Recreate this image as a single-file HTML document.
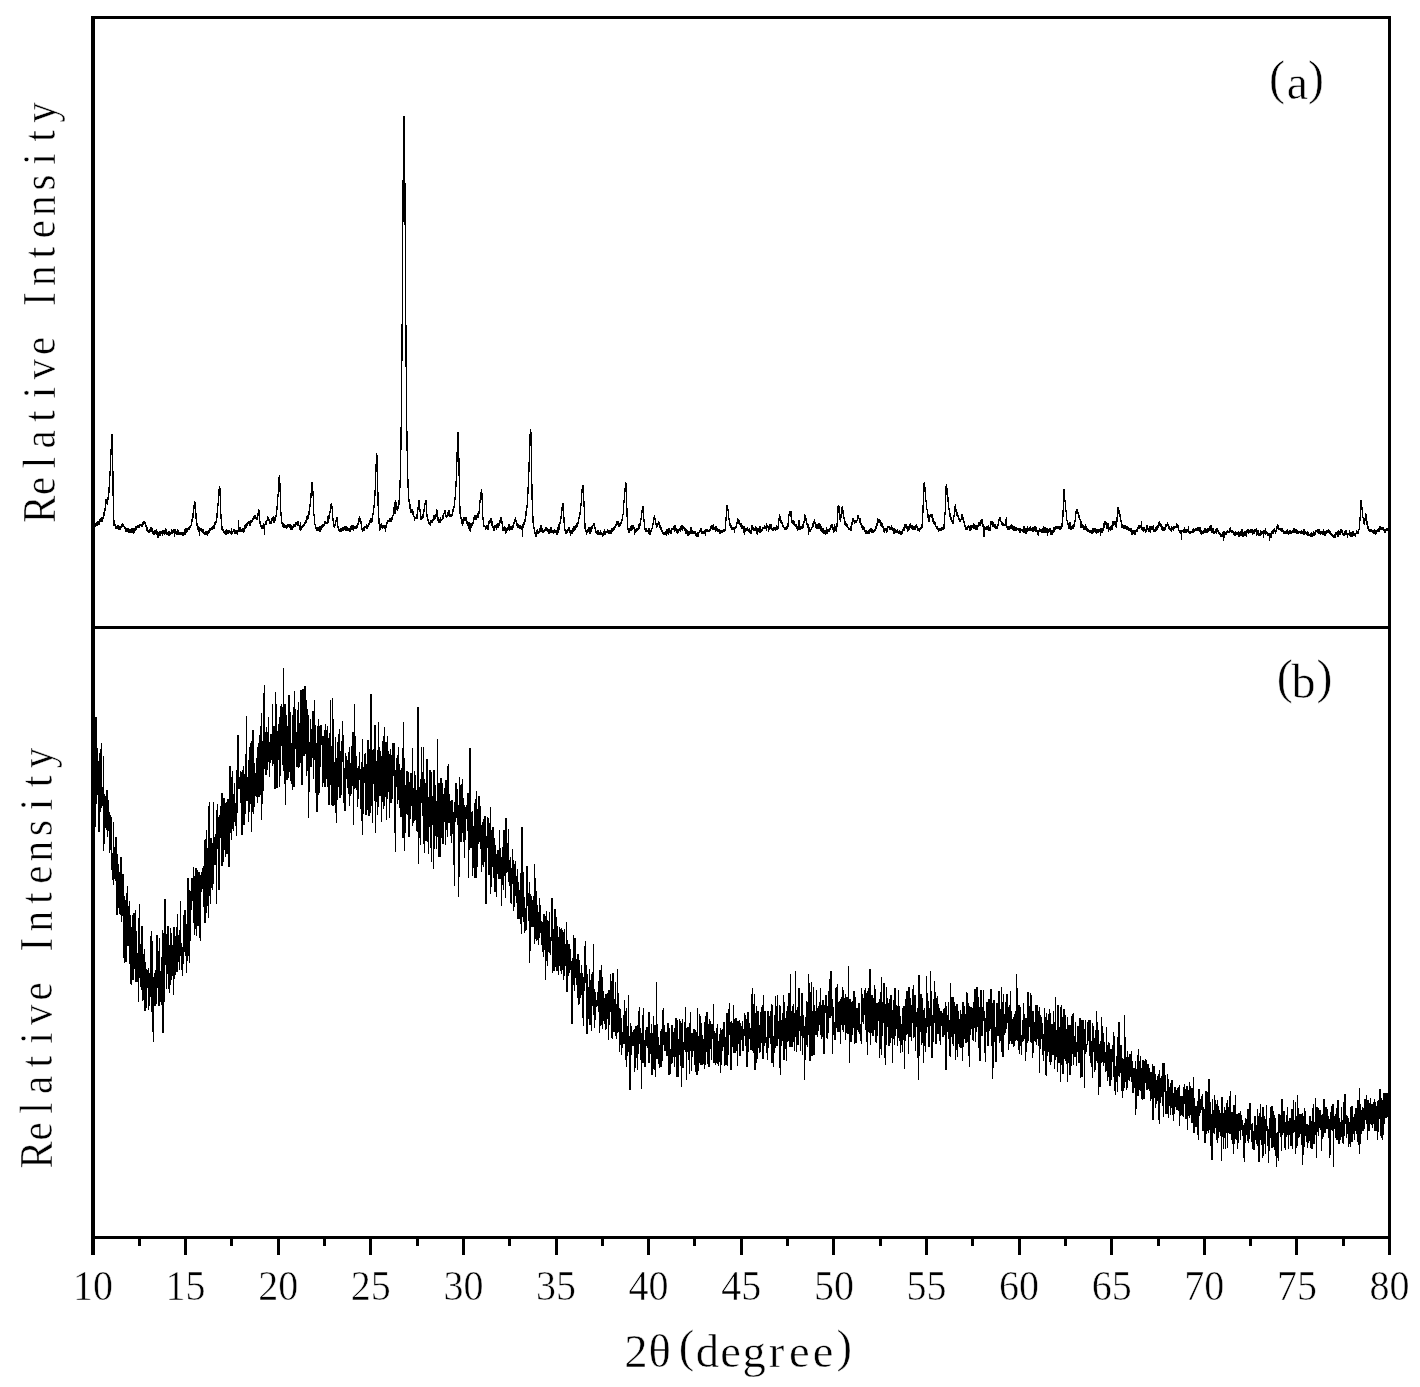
<!DOCTYPE html>
<html><head><meta charset="utf-8"><title>XRD</title>
<style>
html,body{margin:0;padding:0;background:#fff;}
body{width:1420px;height:1387px;overflow:hidden;}
svg{display:block}
text{font-family:"Liberation Serif",serif;fill:#000;stroke:#fff;stroke-width:0.5px;}
.tk{font-size:40px;}
</style></head><body>
<svg width="1420" height="1387" viewBox="0 0 1420 1387">
<rect x="0" y="0" width="1420" height="1387" fill="#fff"/>
<g fill="none" stroke="#000" stroke-width="1.3" stroke-linejoin="miter" shape-rendering="crispEdges">
<polyline points="95.0,527 95.2,524 95.4,524 95.6,525 95.8,523 96.0,524 96.2,524 96.4,522 96.6,526 96.8,525 97.0,525 97.2,524 97.4,525 97.6,523 97.8,523 98.0,521 98.2,524 98.4,523 98.6,523 98.8,521 99.0,525 99.2,522 99.4,521 99.6,524 99.8,521 100.0,519 100.2,520 100.4,518 100.6,522 100.8,520 101.0,519 101.2,522 101.4,518 101.6,521 101.8,517 102.0,519 102.2,518 102.4,521 102.6,521 102.8,518 103.0,519 103.2,517 103.4,518 103.6,515 103.8,513 104.0,512 104.2,514 104.4,516 104.6,512 104.8,509 105.0,511 105.2,507 105.3,505 105.5,504 105.7,502 105.9,501 106.1,499 106.3,501 106.5,501 106.7,504 106.9,503 107.1,501 107.3,503 107.5,505 107.7,502 107.9,499 108.1,497 108.3,496 108.5,495 108.7,491 108.9,493 109.1,488 109.3,485 109.5,484 109.7,481 109.9,475 110.1,472 110.3,468 110.5,463 110.7,456 110.9,455 111.1,451 111.3,446 111.5,440 111.7,438 111.9,435 112.1,434 112.3,436 112.5,443 112.7,457 112.9,475 113.1,492 113.3,504 113.5,512 113.7,517 113.9,521 114.1,526 114.3,525 114.5,524 114.7,524 114.9,524 115.1,526 115.3,527 115.5,524 115.7,527 115.9,526 116.1,529 116.3,527 116.5,529 116.7,526 116.9,527 117.1,527 117.3,528 117.5,528 117.7,525 117.9,527 118.1,527 118.3,526 118.5,526 118.7,530 118.9,527 119.1,526 119.3,528 119.5,528 119.7,528 119.9,529 120.1,529 120.3,528 120.5,529 120.7,528 120.9,527 121.1,527 121.3,526 121.5,527 121.7,525 121.9,524 122.1,526 122.3,524 122.5,523 122.7,527 122.9,525 123.1,527 123.3,526 123.5,525 123.7,525 123.9,526 124.1,527 124.3,527 124.5,528 124.7,526 124.9,529 125.1,527 125.3,530 125.5,531 125.7,531 125.8,532 126.0,528 126.2,531 126.4,532 126.6,531 126.8,529 127.0,531 127.2,532 127.4,528 127.6,530 127.8,531 128.0,529 128.2,533 128.4,528 128.6,529 128.8,529 129.0,530 129.2,530 129.4,532 129.6,529 129.8,530 130.0,532 130.2,532 130.4,529 130.6,532 130.8,530 131.0,532 131.2,532 131.4,533 131.6,531 131.8,529 132.0,529 132.2,532 132.4,531 132.6,533 132.8,532 133.0,530 133.2,533 133.4,530 133.6,528 133.8,534 134.0,528 134.2,532 134.4,532 134.6,530 134.8,528 135.0,531 135.2,527 135.4,527 135.6,528 135.8,530 136.0,529 136.2,530 136.4,528 136.6,528 136.8,526 137.0,527 137.2,528 137.4,527 137.6,528 137.8,526 138.0,526 138.2,527 138.4,526 138.6,527 138.8,526 139.0,528 139.2,525 139.4,525 139.6,524 139.8,525 140.0,526 140.2,524 140.4,525 140.6,526 140.8,525 141.0,524 141.2,526 141.4,525 141.6,525 141.8,526 142.0,526 142.2,524 142.4,523 142.6,524 142.8,523 143.0,522 143.2,525 143.4,523 143.6,523 143.8,521 144.0,524 144.2,521 144.4,522 144.6,521 144.8,523 145.0,523 145.2,524 145.4,525 145.6,525 145.8,527 146.0,526 146.2,526 146.3,528 146.5,529 146.7,531 146.9,530 147.1,527 147.3,530 147.5,532 147.7,530 147.9,530 148.1,531 148.3,530 148.5,532 148.7,531 148.9,533 149.1,532 149.3,530 149.5,532 149.7,532 149.9,530 150.1,530 150.3,527 150.5,532 150.7,529 150.9,527 151.1,528 151.3,530 151.5,532 151.7,531 151.9,531 152.1,529 152.3,529 152.5,533 152.7,532 152.9,532 153.1,534 153.3,531 153.5,532 153.7,534 153.9,535 154.1,533 154.3,535 154.5,532 154.7,533 154.9,532 155.1,530 155.3,533 155.5,534 155.7,532 155.9,532 156.1,534 156.3,530 156.5,530 156.7,532 156.9,531 157.1,535 157.3,534 157.5,532 157.7,533 157.9,538 158.1,533 158.3,533 158.5,535 158.7,532 158.9,535 159.1,533 159.3,532 159.5,535 159.7,534 159.9,531 160.1,535 160.3,535 160.5,533 160.7,533 160.9,534 161.1,532 161.3,531 161.5,534 161.7,531 161.9,534 162.1,531 162.3,533 162.5,533 162.7,536 162.9,531 163.1,531 163.3,532 163.5,531 163.7,531 163.9,533 164.1,533 164.3,534 164.5,531 164.7,535 164.9,534 165.1,531 165.3,528 165.5,531 165.7,532 165.9,529 166.1,532 166.3,532 166.5,531 166.7,534 166.9,534 167.0,533 167.2,534 167.4,533 167.6,533 167.8,534 168.0,535 168.2,533 168.4,531 168.6,535 168.8,532 169.0,534 169.2,536 169.4,534 169.6,532 169.8,532 170.0,535 170.2,533 170.4,534 170.6,535 170.8,533 171.0,533 171.2,532 171.4,529 171.6,531 171.8,533 172.0,533 172.2,533 172.4,532 172.6,532 172.8,533 173.0,531 173.2,531 173.4,529 173.6,533 173.8,531 174.0,532 174.2,533 174.4,532 174.6,531 174.8,537 175.0,529 175.2,532 175.4,531 175.6,529 175.8,533 176.0,531 176.2,533 176.4,532 176.6,534 176.8,535 177.0,532 177.2,531 177.4,534 177.6,529 177.8,533 178.0,533 178.2,535 178.4,530 178.6,533 178.8,532 179.0,535 179.2,533 179.4,533 179.6,534 179.8,532 180.0,534 180.2,533 180.4,533 180.6,533 180.8,535 181.0,533 181.2,534 181.4,534 181.6,532 181.8,534 182.0,534 182.2,534 182.4,533 182.6,533 182.8,534 183.0,536 183.2,532 183.4,534 183.6,532 183.8,534 184.0,535 184.2,534 184.4,529 184.6,532 184.8,531 185.0,532 185.2,531 185.4,531 185.6,533 185.8,535 186.0,528 186.2,531 186.4,532 186.6,531 186.8,530 187.0,528 187.2,529 187.4,531 187.5,531 187.7,529 187.9,528 188.1,529 188.3,528 188.5,529 188.7,529 188.9,527 189.1,528 189.3,528 189.5,529 189.7,529 189.9,526 190.1,528 190.3,525 190.5,528 190.7,527 190.9,525 191.1,526 191.3,523 191.5,522 191.7,522 191.9,522 192.1,520 192.3,520 192.5,518 192.7,519 192.9,518 193.1,514 193.3,511 193.5,513 193.7,512 193.9,508 194.1,505 194.3,506 194.5,506 194.7,501 194.9,503 195.1,502 195.3,503 195.5,507 195.7,508 195.9,514 196.1,519 196.3,520 196.5,521 196.7,522 196.9,524 197.1,524 197.3,530 197.5,528 197.7,527 197.9,527 198.1,527 198.3,529 198.5,527 198.7,532 198.9,528 199.1,528 199.3,530 199.5,536 199.7,531 199.9,529 200.1,530 200.3,530 200.5,531 200.7,530 200.9,529 201.1,528 201.3,531 201.5,529 201.7,532 201.9,531 202.1,529 202.3,530 202.5,530 202.7,531 202.9,533 203.1,530 203.3,529 203.5,533 203.7,532 203.9,533 204.1,534 204.3,533 204.5,535 204.7,532 204.9,534 205.1,533 205.3,532 205.5,535 205.7,534 205.9,531 206.1,532 206.3,534 206.5,534 206.7,532 206.9,532 207.1,531 207.3,536 207.5,533 207.7,533 207.9,533 208.0,533 208.2,533 208.4,531 208.6,532 208.8,531 209.0,533 209.2,530 209.4,530 209.6,531 209.8,532 210.0,530 210.2,528 210.4,529 210.6,528 210.8,531 211.0,529 211.2,530 211.4,528 211.6,527 211.8,529 212.0,530 212.2,528 212.4,527 212.6,529 212.8,526 213.0,528 213.2,526 213.4,525 213.6,527 213.8,527 214.0,529 214.2,526 214.4,526 214.6,524 214.8,523 215.0,522 215.2,525 215.4,522 215.6,525 215.8,524 216.0,521 216.2,523 216.4,520 216.6,520 216.8,517 217.0,517 217.2,512 217.4,512 217.6,509 217.8,507 218.0,505 218.2,502 218.4,499 218.6,497 218.8,495 219.0,489 219.2,490 219.4,489 219.6,486 219.8,488 220.0,489 220.2,497 220.4,500 220.6,502 220.8,513 221.0,516 221.2,520 221.4,521 221.6,524 221.8,525 222.0,528 222.2,530 222.4,530 222.6,531 222.8,529 223.0,530 223.2,531 223.4,532 223.6,532 223.8,532 224.0,533 224.2,532 224.4,532 224.6,534 224.8,531 225.0,532 225.2,534 225.4,532 225.6,533 225.8,531 226.0,535 226.2,529 226.4,530 226.6,531 226.8,534 227.0,533 227.2,532 227.4,531 227.6,533 227.8,533 228.0,532 228.2,530 228.4,531 228.5,533 228.7,533 228.9,532 229.1,532 229.3,530 229.5,532 229.7,531 229.9,532 230.1,533 230.3,532 230.5,531 230.7,534 230.9,533 231.1,532 231.3,528 231.5,533 231.7,534 231.9,534 232.1,532 232.3,532 232.5,532 232.7,534 232.9,531 233.1,532 233.3,531 233.5,532 233.7,530 233.9,529 234.1,531 234.3,532 234.5,533 234.7,534 234.9,530 235.1,533 235.3,533 235.5,531 235.7,534 235.9,532 236.1,534 236.3,531 236.5,530 236.7,533 236.9,534 237.1,532 237.3,532 237.5,530 237.7,535 237.9,530 238.1,532 238.3,528 238.5,529 238.7,520 238.9,530 239.1,531 239.3,528 239.5,529 239.7,532 239.9,530 240.1,528 240.3,528 240.5,527 240.7,531 240.9,529 241.1,531 241.3,531 241.5,529 241.7,530 241.9,532 242.1,531 242.3,531 242.5,528 242.7,532 242.9,530 243.1,528 243.3,530 243.5,531 243.7,533 243.9,529 244.1,528 244.3,532 244.5,529 244.7,528 244.9,526 245.1,526 245.3,529 245.5,526 245.7,525 245.9,525 246.1,528 246.3,524 246.5,526 246.7,525 246.9,525 247.1,523 247.3,525 247.5,526 247.7,524 247.9,523 248.1,522 248.3,524 248.5,523 248.7,523 248.9,523 249.0,521 249.2,524 249.4,524 249.6,523 249.8,525 250.0,525 250.2,523 250.4,522 250.6,525 250.8,522 251.0,522 251.2,520 251.4,522 251.6,521 251.8,521 252.0,522 252.2,521 252.4,522 252.6,521 252.8,519 253.0,519 253.2,518 253.4,519 253.6,516 253.8,517 254.0,519 254.2,517 254.4,516 254.6,515 254.8,517 255.0,517 255.2,516 255.4,516 255.6,516 255.8,517 256.0,518 256.2,518 256.4,519 256.6,518 256.8,520 257.0,519 257.2,517 257.4,519 257.6,518 257.8,517 258.0,514 258.2,513 258.4,511 258.6,513 258.8,509 259.0,513 259.2,516 259.4,520 259.6,521 259.8,522 260.0,522 260.2,524 260.4,523 260.6,526 260.8,526 261.0,526 261.2,526 261.4,528 261.6,525 261.8,527 262.0,529 262.2,527 262.4,526 262.6,527 262.8,525 263.0,526 263.2,528 263.4,529 263.6,523 263.8,526 264.0,528 264.2,524 264.4,525 264.6,535 264.8,524 265.0,525 265.2,524 265.4,521 265.6,524 265.8,523 266.0,524 266.2,525 266.4,523 266.6,521 266.8,521 267.0,520 267.2,521 267.4,517 267.6,517 267.8,516 268.0,519 268.2,518 268.4,518 268.6,518 268.8,519 269.0,520 269.2,521 269.4,521 269.5,524 269.7,523 269.9,522 270.1,522 270.3,524 270.5,523 270.7,523 270.9,523 271.1,524 271.3,520 271.5,520 271.7,518 271.9,521 272.1,519 272.3,518 272.5,518 272.7,519 272.9,518 273.1,517 273.3,520 273.5,517 273.7,517 273.9,523 274.1,519 274.3,519 274.5,518 274.7,517 274.9,520 275.1,520 275.3,519 275.5,517 275.7,515 275.9,516 276.1,517 276.3,515 276.5,512 276.7,512 276.9,509 277.1,507 277.3,503 277.5,502 277.7,500 277.9,496 278.1,494 278.3,493 278.5,489 278.7,483 278.9,480 279.1,478 279.3,475 279.5,478 279.7,480 279.9,484 280.1,490 280.3,495 280.5,501 280.7,505 280.9,513 281.1,515 281.3,515 281.5,518 281.7,520 281.9,522 282.1,524 282.3,525 282.5,525 282.7,526 282.9,526 283.1,526 283.3,526 283.5,525 283.7,523 283.9,525 284.1,528 284.3,525 284.5,525 284.7,527 284.9,526 285.1,525 285.3,528 285.5,527 285.7,527 285.9,525 286.1,527 286.3,527 286.5,527 286.7,528 286.9,528 287.1,526 287.3,527 287.5,524 287.7,527 287.9,527 288.1,525 288.3,525 288.5,526 288.7,524 288.9,526 289.1,526 289.3,524 289.5,526 289.7,527 289.9,527 290.1,527 290.2,526 290.4,525 290.6,525 290.8,527 291.0,530 291.2,528 291.4,529 291.6,529 291.8,525 292.0,527 292.2,527 292.4,529 292.6,529 292.8,526 293.0,527 293.2,527 293.4,526 293.6,525 293.8,525 294.0,527 294.2,524 294.4,527 294.6,525 294.8,526 295.0,527 295.2,524 295.4,523 295.6,525 295.8,522 296.0,523 296.2,523 296.4,524 296.6,522 296.8,523 297.0,524 297.2,525 297.4,521 297.6,525 297.8,525 298.0,522 298.2,522 298.4,525 298.6,524 298.8,525 299.0,526 299.2,525 299.4,526 299.6,527 299.8,528 300.0,529 300.2,529 300.4,522 300.6,527 300.8,531 301.0,528 301.2,528 301.4,526 301.6,529 301.8,527 302.0,527 302.2,526 302.4,527 302.6,527 302.8,525 303.0,526 303.2,527 303.4,525 303.6,525 303.8,525 304.0,524 304.2,526 304.4,524 304.6,526 304.8,525 305.0,522 305.2,523 305.4,522 305.6,521 305.8,521 306.0,521 306.2,522 306.4,522 306.6,518 306.8,519 307.0,516 307.2,520 307.4,515 307.6,520 307.8,517 308.0,519 308.2,516 308.4,515 308.6,515 308.8,516 309.0,514 309.2,510 309.4,513 309.6,509 309.8,508 310.0,506 310.2,504 310.4,503 310.6,501 310.7,499 310.9,497 311.1,494 311.3,490 311.5,489 311.7,488 311.9,486 312.1,483 312.3,483 312.5,484 312.7,487 312.9,492 313.1,494 313.3,500 313.5,508 313.7,512 313.9,516 314.1,514 314.3,519 314.5,517 314.7,524 314.9,524 315.1,525 315.3,525 315.5,528 315.7,526 315.9,529 316.1,528 316.3,529 316.5,529 316.7,529 316.9,527 317.1,530 317.3,530 317.5,529 317.7,530 317.9,531 318.1,527 318.3,529 318.5,529 318.7,528 318.9,529 319.1,528 319.3,528 319.5,529 319.7,529 319.9,526 320.1,532 320.3,528 320.5,528 320.7,526 320.9,528 321.1,529 321.3,529 321.5,526 321.7,526 321.9,528 322.1,526 322.3,527 322.5,524 322.7,527 322.9,527 323.1,526 323.3,524 323.5,525 323.7,525 323.9,525 324.1,525 324.3,524 324.5,525 324.7,526 324.9,521 325.1,522 325.3,522 325.5,523 325.7,521 325.9,524 326.1,522 326.3,523 326.5,522 326.7,523 326.9,523 327.1,523 327.3,521 327.5,523 327.7,519 327.9,523 328.1,516 328.3,519 328.5,517 328.7,519 328.9,515 329.1,519 329.3,513 329.5,517 329.7,514 329.9,512 330.1,512 330.3,513 330.5,510 330.7,505 330.9,509 331.1,506 331.2,503 331.4,506 331.6,503 331.8,505 332.0,507 332.2,507 332.4,512 332.6,513 332.8,518 333.0,519 333.2,522 333.4,527 333.6,526 333.8,525 334.0,526 334.2,526 334.4,527 334.6,527 334.8,526 335.0,525 335.2,524 335.4,524 335.6,524 335.8,521 336.0,521 336.2,520 336.4,521 336.6,520 336.8,517 337.0,518 337.2,517 337.4,519 337.6,523 337.8,525 338.0,528 338.2,527 338.4,527 338.6,530 338.8,529 339.0,530 339.2,530 339.4,531 339.6,531 339.8,531 340.0,529 340.2,532 340.4,529 340.6,529 340.8,532 341.0,530 341.2,528 341.4,531 341.6,531 341.8,531 342.0,529 342.2,530 342.4,529 342.6,528 342.8,531 343.0,528 343.2,528 343.4,528 343.6,531 343.8,530 344.0,528 344.2,528 344.4,529 344.6,529 344.8,526 345.0,529 345.2,528 345.4,527 345.6,527 345.8,529 346.0,531 346.2,529 346.4,529 346.6,526 346.8,530 347.0,530 347.2,527 347.4,529 347.6,531 347.8,527 348.0,529 348.2,531 348.4,528 348.6,529 348.8,530 349.0,531 349.2,528 349.4,531 349.6,530 349.8,531 350.0,531 350.2,530 350.4,530 350.6,527 350.8,527 351.0,527 351.2,528 351.4,530 351.6,526 351.7,528 351.9,526 352.1,526 352.3,530 352.5,528 352.7,530 352.9,529 353.1,526 353.3,525 353.5,531 353.7,527 353.9,526 354.1,529 354.3,528 354.5,527 354.7,527 354.9,528 355.1,528 355.3,529 355.5,527 355.7,527 355.9,529 356.1,528 356.3,529 356.5,527 356.7,527 356.9,525 357.1,528 357.3,523 357.5,525 357.7,523 357.9,524 358.1,524 358.3,520 358.5,521 358.7,519 358.9,522 359.1,519 359.3,516 359.5,518 359.7,521 359.9,521 360.1,521 360.3,518 360.5,520 360.7,523 360.9,521 361.1,523 361.3,523 361.5,524 361.7,528 361.9,529 362.1,529 362.3,530 362.5,531 362.7,532 362.9,530 363.1,530 363.3,529 363.5,531 363.7,529 363.9,527 364.1,529 364.3,529 364.5,530 364.7,530 364.9,527 365.1,527 365.3,527 365.5,526 365.7,527 365.9,528 366.1,527 366.3,525 366.5,525 366.7,529 366.9,526 367.1,528 367.3,528 367.5,526 367.7,525 367.9,526 368.1,525 368.3,527 368.5,525 368.7,524 368.9,524 369.1,524 369.3,522 369.5,522 369.7,522 369.9,520 370.1,521 370.3,521 370.5,521 370.7,518 370.9,522 371.1,523 371.3,521 371.5,520 371.7,518 371.9,520 372.1,518 372.2,522 372.4,517 372.6,518 372.8,514 373.0,514 373.2,514 373.4,514 373.6,512 373.8,510 374.0,505 374.2,507 374.4,501 374.6,502 374.8,498 375.0,493 375.2,489 375.4,481 375.6,481 375.8,473 376.0,469 376.2,462 376.4,458 376.6,454 376.8,454 377.0,456 377.2,460 377.4,471 377.6,479 377.8,489 378.0,498 378.2,508 378.4,511 378.6,518 378.8,517 379.0,521 379.2,525 379.4,525 379.6,530 379.8,530 380.0,525 380.2,525 380.4,527 380.6,529 380.8,529 381.0,527 381.2,525 381.4,526 381.6,523 381.8,524 382.0,527 382.2,528 382.4,525 382.6,527 382.8,529 383.0,527 383.2,526 383.4,527 383.6,527 383.8,526 384.0,526 384.2,526 384.4,526 384.6,526 384.8,528 385.0,528 385.2,528 385.4,532 385.6,528 385.8,528 386.0,526 386.2,525 386.4,528 386.6,524 386.8,523 387.0,522 387.2,523 387.4,523 387.6,524 387.8,521 388.0,521 388.2,521 388.4,522 388.6,521 388.8,520 389.0,521 389.2,522 389.4,520 389.6,518 389.8,520 390.0,520 390.2,518 390.4,522 390.6,519 390.8,521 391.0,520 391.2,519 391.4,522 391.6,518 391.8,518 392.0,519 392.2,519 392.4,517 392.6,515 392.7,516 392.9,515 393.1,516 393.3,512 393.5,511 393.7,509 393.9,507 394.1,508 394.3,508 394.5,504 394.7,503 394.9,502 395.1,514 395.3,501 395.5,502 395.7,500 395.9,503 396.1,503 396.3,503 396.5,507 396.7,509 396.9,506 397.1,509 397.3,511 397.5,508 397.7,509 397.9,506 398.1,508 398.3,508 398.5,504 398.7,504 398.9,505 399.1,501 399.3,497 399.5,494 399.7,492 399.9,487 400.1,483 400.3,473 400.5,469 400.7,458 400.9,448 401.1,433 401.3,417 401.5,400 401.7,379 401.9,357 402.1,333 402.3,307 402.5,277 402.7,246 402.9,217 403.1,189 403.3,164 403.5,140 403.7,125 403.9,116 404.1,117 404.3,126 404.5,137 404.7,163 404.9,188 405.1,214 405.3,247 405.5,276 405.7,306 405.9,330 406.1,360 406.3,380 406.5,400 406.7,420 406.9,434 407.1,447 407.3,459 407.5,464 407.7,477 407.9,480 408.1,486 408.3,491 408.5,493 408.7,497 408.9,500 409.1,501 409.3,503 409.5,502 409.7,503 409.9,504 410.1,507 410.3,513 410.5,509 410.7,509 410.9,509 411.1,511 411.3,511 411.5,509 411.7,512 411.9,511 412.1,513 412.3,510 412.5,510 412.7,514 412.9,511 413.1,514 413.2,515 413.4,515 413.6,516 413.8,516 414.0,517 414.2,516 414.4,517 414.6,521 414.8,519 415.0,518 415.2,518 415.4,517 415.6,518 415.8,517 416.0,519 416.2,516 416.4,514 416.6,516 416.8,517 417.0,519 417.2,516 417.4,512 417.6,512 417.8,510 418.0,509 418.2,506 418.4,503 418.6,504 418.8,502 419.0,501 419.2,501 419.4,505 419.6,504 419.8,507 420.0,512 420.2,511 420.4,516 420.6,515 420.8,516 421.0,518 421.2,520 421.4,517 421.6,519 421.8,518 422.0,516 422.2,519 422.4,516 422.6,515 422.8,515 423.0,518 423.2,516 423.4,514 423.6,516 423.8,513 424.0,511 424.2,509 424.4,510 424.6,505 424.8,504 425.0,504 425.2,505 425.4,503 425.6,503 425.8,502 426.0,500 426.2,505 426.4,505 426.6,511 426.8,513 427.0,515 427.2,517 427.4,519 427.6,520 427.8,521 428.0,520 428.2,519 428.4,522 428.6,524 428.8,523 429.0,522 429.2,523 429.4,522 429.6,523 429.8,522 430.0,523 430.2,525 430.4,525 430.6,524 430.8,521 431.0,521 431.2,522 431.4,522 431.6,521 431.8,523 432.0,520 432.2,523 432.4,522 432.6,519 432.8,521 433.0,519 433.2,521 433.4,519 433.6,520 433.8,520 433.9,515 434.1,517 434.3,519 434.5,519 434.7,520 434.9,519 435.1,516 435.3,518 435.5,516 435.7,516 435.9,514 436.1,515 436.3,511 436.5,511 436.7,509 436.9,517 437.1,510 437.3,511 437.5,512 437.7,515 437.9,517 438.1,520 438.3,520 438.5,521 438.7,520 438.9,521 439.1,523 439.3,522 439.5,522 439.7,519 439.9,522 440.1,522 440.3,523 440.5,517 440.7,521 440.9,520 441.1,521 441.3,519 441.5,520 441.7,521 441.9,520 442.1,519 442.3,519 442.5,518 442.7,518 442.9,517 443.1,515 443.3,519 443.5,514 443.7,516 443.9,513 444.1,514 444.3,512 444.5,512 444.7,511 444.9,510 445.1,513 445.3,515 445.5,515 445.7,516 445.9,515 446.1,517 446.3,518 446.5,516 446.7,518 446.9,516 447.1,517 447.3,515 447.5,514 447.7,514 447.9,514 448.1,513 448.3,511 448.5,511 448.7,512 448.9,510 449.1,515 449.3,515 449.5,515 449.7,514 449.9,517 450.1,515 450.3,516 450.5,516 450.7,514 450.9,517 451.1,515 451.3,514 451.5,515 451.7,514 451.9,515 452.1,515 452.3,514 452.5,512 452.7,510 452.9,510 453.1,511 453.3,511 453.5,512 453.7,507 453.9,508 454.1,506 454.3,505 454.4,504 454.6,502 454.8,501 455.0,498 455.2,498 455.4,496 455.6,494 455.8,488 456.0,484 456.2,480 456.4,475 456.6,472 456.8,464 457.0,459 457.2,450 457.4,445 457.6,441 457.8,438 458.0,432 458.2,433 458.4,433 458.6,442 458.8,454 459.0,466 459.2,479 459.4,490 459.6,495 459.8,505 460.0,507 460.2,515 460.4,515 460.6,511 460.8,517 461.0,518 461.2,519 461.4,519 461.6,521 461.8,520 462.0,524 462.2,520 462.4,521 462.6,520 462.8,526 463.0,520 463.2,520 463.4,522 463.6,522 463.8,520 464.0,518 464.2,518 464.4,519 464.6,519 464.8,519 465.0,521 465.2,520 465.4,517 465.6,519 465.8,519 466.0,520 466.2,518 466.4,518 466.6,521 466.8,523 467.0,521 467.2,525 467.4,526 467.6,523 467.8,522 468.0,524 468.2,524 468.4,525 468.6,522 468.8,528 469.0,528 469.2,524 469.4,523 469.6,525 469.8,522 470.0,528 470.2,532 470.4,526 470.6,523 470.8,527 471.0,527 471.2,526 471.4,526 471.6,526 471.8,525 472.0,523 472.2,525 472.4,522 472.6,526 472.8,522 473.0,524 473.2,521 473.4,522 473.6,521 473.8,522 474.0,517 474.2,518 474.4,519 474.6,518 474.8,516 474.9,517 475.1,515 475.3,517 475.5,516 475.7,516 475.9,520 476.1,516 476.3,516 476.5,517 476.7,516 476.9,515 477.1,518 477.3,515 477.5,513 477.7,516 477.9,516 478.1,515 478.3,518 478.5,514 478.7,516 478.9,513 479.1,511 479.3,512 479.5,505 479.7,505 479.9,503 480.1,501 480.3,501 480.5,498 480.7,494 480.9,492 481.1,495 481.3,490 481.5,489 481.7,492 481.9,493 482.1,498 482.3,504 482.5,509 482.7,512 482.9,518 483.1,519 483.3,521 483.5,523 483.7,524 483.9,526 484.1,526 484.3,525 484.5,527 484.7,526 484.9,526 485.1,527 485.3,528 485.5,527 485.7,529 485.9,529 486.1,527 486.3,526 486.5,526 486.7,527 486.9,528 487.1,529 487.3,525 487.5,528 487.7,528 487.9,530 488.1,526 488.3,525 488.5,523 488.7,523 488.9,524 489.1,522 489.3,522 489.5,520 489.7,522 489.9,522 490.1,522 490.3,520 490.5,521 490.7,521 490.9,518 491.1,519 491.3,518 491.5,519 491.7,522 491.9,522 492.1,526 492.3,527 492.5,526 492.7,526 492.9,527 493.1,527 493.3,529 493.5,527 493.7,529 493.9,528 494.1,530 494.3,530 494.5,531 494.7,528 494.9,526 495.1,526 495.3,528 495.4,526 495.6,525 495.8,527 496.0,526 496.2,528 496.4,530 496.6,526 496.8,527 497.0,524 497.2,527 497.4,525 497.6,525 497.8,523 498.0,528 498.2,523 498.4,524 498.6,525 498.8,525 499.0,525 499.2,524 499.4,522 499.6,524 499.8,523 500.0,520 500.2,523 500.4,520 500.6,521 500.8,518 501.0,518 501.2,519 501.4,520 501.6,523 501.8,520 502.0,524 502.2,523 502.4,526 502.6,527 502.8,526 503.0,531 503.2,528 503.4,530 503.6,527 503.8,529 504.0,530 504.2,530 504.4,530 504.6,529 504.8,526 505.0,530 505.2,530 505.4,531 505.6,532 505.8,534 506.0,531 506.2,532 506.4,531 506.6,531 506.8,531 507.0,529 507.2,529 507.4,529 507.6,531 507.8,529 508.0,530 508.2,526 508.4,528 508.6,528 508.8,528 509.0,525 509.2,525 509.4,524 509.6,527 509.8,531 510.0,528 510.2,526 510.4,528 510.6,527 510.8,528 511.0,527 511.2,526 511.4,527 511.6,529 511.8,529 512.0,530 512.2,526 512.4,529 512.6,527 512.8,527 513.0,528 513.2,525 513.4,525 513.6,524 513.8,524 514.0,523 514.2,523 514.4,521 514.6,519 514.8,523 515.0,519 515.2,520 515.4,518 515.6,517 515.8,519 515.9,521 516.1,522 516.3,522 516.5,524 516.7,525 516.9,526 517.1,523 517.3,525 517.5,525 517.7,524 517.9,528 518.1,524 518.3,526 518.5,527 518.7,524 518.9,528 519.1,526 519.3,527 519.5,527 519.7,525 519.9,528 520.1,528 520.3,529 520.5,528 520.7,525 520.9,529 521.1,528 521.3,528 521.5,528 521.7,526 521.9,528 522.1,526 522.3,537 522.5,526 522.7,525 522.9,525 523.1,528 523.3,524 523.5,522 523.7,527 523.9,525 524.1,523 524.3,524 524.5,521 524.7,520 524.9,522 525.1,519 525.3,520 525.5,518 525.7,518 525.9,516 526.1,511 526.3,514 526.5,510 526.7,510 526.9,507 527.1,507 527.3,502 527.5,496 527.7,496 527.9,493 528.1,488 528.3,484 528.5,482 528.7,475 528.9,471 529.1,465 529.3,456 529.5,451 529.7,446 529.9,441 530.1,435 530.3,431 530.5,429 530.7,430 530.9,433 531.1,441 531.3,455 531.5,464 531.7,474 531.9,486 532.1,497 532.3,504 532.5,510 532.7,513 532.9,517 533.1,522 533.3,525 533.5,524 533.7,526 533.9,529 534.1,527 534.3,528 534.5,531 534.7,532 534.9,532 535.1,534 535.3,535 535.5,534 535.7,533 535.9,536 536.1,536 536.3,535 536.4,532 536.6,534 536.8,530 537.0,532 537.2,529 537.4,532 537.6,534 537.8,532 538.0,534 538.2,532 538.4,532 538.6,531 538.8,532 539.0,531 539.2,532 539.4,532 539.6,531 539.8,528 540.0,531 540.2,532 540.4,531 540.6,530 540.8,531 541.0,526 541.2,526 541.4,532 541.6,531 541.8,531 542.0,529 542.2,531 542.4,531 542.6,528 542.8,532 543.0,531 543.2,533 543.4,532 543.6,531 543.8,531 544.0,532 544.2,531 544.4,532 544.6,530 544.8,529 545.0,530 545.2,529 545.4,529 545.6,531 545.8,528 546.0,528 546.2,531 546.4,529 546.6,530 546.8,528 547.0,529 547.2,530 547.4,532 547.6,531 547.8,528 548.0,531 548.2,532 548.4,532 548.6,529 548.8,531 549.0,534 549.2,530 549.4,532 549.6,530 549.8,530 550.0,531 550.2,532 550.4,532 550.6,529 550.8,530 551.0,529 551.2,527 551.4,531 551.6,532 551.8,532 552.0,530 552.2,532 552.4,532 552.6,530 552.8,531 553.0,532 553.2,532 553.4,534 553.6,531 553.8,530 554.0,533 554.2,532 554.4,529 554.6,530 554.8,531 555.0,531 555.2,532 555.4,533 555.6,531 555.8,532 556.0,530 556.2,533 556.4,533 556.6,531 556.8,530 557.0,535 557.1,532 557.3,529 557.5,528 557.7,530 557.9,533 558.1,528 558.3,528 558.5,528 558.7,529 558.9,529 559.1,525 559.3,525 559.5,525 559.7,523 559.9,522 560.1,524 560.3,522 560.5,522 560.7,521 560.9,518 561.1,517 561.3,515 561.5,514 561.7,513 561.9,511 562.1,507 562.3,510 562.5,507 562.7,505 562.9,503 563.1,507 563.3,510 563.5,513 563.7,516 563.9,517 564.1,522 564.3,522 564.5,527 564.7,530 564.9,529 565.1,531 565.3,532 565.5,532 565.7,534 565.9,531 566.1,534 566.3,530 566.5,531 566.7,530 566.9,531 567.1,530 567.3,531 567.5,530 567.7,533 567.9,530 568.1,529 568.3,530 568.5,530 568.7,529 568.9,528 569.1,528 569.3,530 569.5,531 569.7,531 569.9,530 570.1,531 570.3,536 570.5,531 570.7,533 570.9,533 571.1,533 571.3,531 571.5,532 571.7,530 571.9,534 572.1,531 572.3,530 572.5,531 572.7,532 572.9,528 573.1,529 573.3,532 573.5,530 573.7,530 573.9,527 574.1,526 574.3,530 574.5,530 574.7,527 574.9,529 575.1,529 575.3,527 575.5,527 575.7,526 575.9,528 576.1,526 576.3,526 576.5,524 576.7,523 576.9,526 577.1,527 577.3,526 577.5,526 577.6,523 577.8,523 578.0,523 578.2,522 578.4,524 578.6,519 578.8,519 579.0,518 579.2,517 579.4,518 579.6,513 579.8,516 580.0,514 580.2,512 580.4,512 580.6,511 580.8,506 581.0,505 581.2,502 581.4,500 581.6,496 581.8,493 582.0,492 582.2,489 582.4,489 582.6,487 582.8,485 583.0,486 583.2,487 583.4,490 583.6,496 583.8,499 584.0,505 584.2,507 584.4,515 584.6,516 584.8,521 585.0,527 585.2,529 585.4,528 585.6,528 585.8,531 586.0,531 586.2,532 586.4,530 586.6,534 586.8,534 587.0,530 587.2,531 587.4,531 587.6,533 587.8,529 588.0,532 588.2,531 588.4,530 588.6,532 588.8,528 589.0,528 589.2,529 589.4,531 589.6,529 589.8,528 590.0,534 590.2,528 590.4,527 590.6,528 590.8,528 591.0,532 591.2,526 591.4,528 591.6,527 591.8,527 592.0,529 592.2,528 592.4,527 592.6,526 592.8,525 593.0,526 593.2,525 593.4,524 593.6,526 593.8,523 594.0,524 594.2,526 594.4,526 594.6,527 594.8,526 595.0,529 595.2,528 595.4,532 595.6,532 595.8,532 596.0,533 596.2,532 596.4,531 596.6,534 596.8,533 597.0,534 597.2,533 597.4,535 597.6,532 597.8,531 598.0,531 598.1,534 598.3,531 598.5,531 598.7,531 598.9,534 599.1,534 599.3,532 599.5,534 599.7,533 599.9,535 600.1,534 600.3,532 600.5,533 600.7,530 600.9,534 601.1,533 601.3,533 601.5,534 601.7,534 601.9,535 602.1,534 602.3,534 602.5,536 602.7,536 602.9,536 603.1,535 603.3,534 603.5,534 603.7,534 603.9,531 604.1,532 604.3,535 604.5,533 604.7,529 604.9,532 605.1,533 605.3,531 605.5,535 605.7,534 605.9,533 606.1,532 606.3,532 606.5,533 606.7,532 606.9,531 607.1,532 607.3,532 607.5,529 607.7,530 607.9,532 608.1,532 608.3,532 608.5,532 608.7,530 608.9,533 609.1,533 609.3,530 609.5,532 609.7,531 609.9,531 610.1,533 610.3,532 610.5,534 610.7,532 610.9,530 611.1,532 611.3,528 611.5,534 611.7,531 611.9,531 612.1,531 612.3,529 612.5,530 612.7,529 612.9,529 613.1,530 613.3,528 613.5,531 613.7,527 613.9,530 614.1,527 614.3,526 614.5,528 614.7,528 614.9,527 615.1,527 615.3,525 615.5,527 615.7,525 615.9,525 616.1,526 616.3,523 616.5,523 616.7,523 616.9,522 617.1,521 617.3,523 617.5,523 617.7,523 617.9,521 618.1,524 618.3,524 618.5,524 618.6,522 618.8,523 619.0,527 619.2,526 619.4,525 619.6,523 619.8,526 620.0,524 620.2,526 620.4,523 620.6,524 620.8,523 621.0,524 621.2,522 621.4,523 621.6,521 621.8,520 622.0,521 622.2,519 622.4,515 622.6,517 622.8,516 623.0,514 623.2,515 623.4,510 623.6,508 623.8,504 624.0,502 624.2,500 624.4,498 624.6,495 624.8,493 625.0,490 625.2,488 625.4,484 625.6,484 625.8,482 626.0,484 626.2,487 626.4,491 626.6,494 626.8,505 627.0,515 627.2,517 627.4,520 627.6,525 627.8,528 628.0,529 628.2,529 628.4,528 628.6,530 628.8,529 629.0,531 629.2,533 629.4,532 629.6,529 629.8,529 630.0,528 630.2,530 630.4,531 630.6,530 630.8,530 631.0,527 631.2,526 631.4,530 631.6,527 631.8,531 632.0,525 632.2,527 632.4,527 632.6,529 632.8,529 633.0,528 633.2,529 633.4,527 633.6,525 633.8,527 634.0,528 634.2,528 634.4,530 634.6,535 634.8,528 635.0,530 635.2,531 635.4,531 635.6,533 635.8,529 636.0,532 636.2,530 636.4,532 636.6,531 636.8,531 637.0,530 637.2,528 637.4,529 637.6,531 637.8,529 638.0,530 638.2,527 638.4,529 638.6,529 638.8,524 639.0,527 639.1,529 639.3,525 639.5,527 639.7,525 639.9,526 640.1,523 640.3,522 640.5,522 640.7,521 640.9,520 641.1,518 641.3,520 641.5,516 641.7,513 641.9,512 642.1,512 642.3,507 642.5,509 642.7,508 642.9,508 643.1,506 643.3,507 643.5,512 643.7,515 643.9,520 644.1,521 644.3,523 644.5,524 644.7,527 644.9,528 645.1,530 645.3,529 645.5,531 645.7,531 645.9,529 646.1,528 646.3,529 646.5,530 646.7,529 646.9,531 647.1,531 647.3,532 647.5,531 647.7,530 647.9,531 648.1,530 648.3,531 648.5,529 648.7,533 648.9,528 649.1,533 649.3,533 649.5,532 649.7,532 649.9,532 650.1,534 650.3,534 650.5,531 650.7,533 650.9,530 651.1,531 651.3,531 651.5,528 651.7,530 651.9,528 652.1,529 652.3,526 652.5,524 652.7,524 652.9,525 653.1,524 653.3,523 653.5,520 653.7,521 653.9,518 654.1,518 654.3,519 654.5,517 654.7,515 654.9,519 655.1,519 655.3,519 655.5,523 655.7,521 655.9,524 656.1,524 656.3,528 656.5,523 656.7,526 656.9,526 657.1,527 657.3,525 657.5,524 657.7,527 657.9,524 658.1,524 658.3,524 658.5,524 658.7,521 658.9,522 659.1,523 659.3,523 659.5,525 659.6,525 659.8,526 660.0,526 660.2,528 660.4,526 660.6,528 660.8,526 661.0,528 661.2,531 661.4,530 661.6,528 661.8,531 662.0,531 662.2,530 662.4,532 662.6,532 662.8,532 663.0,534 663.2,532 663.4,534 663.6,532 663.8,533 664.0,535 664.2,534 664.4,533 664.6,533 664.8,534 665.0,532 665.2,535 665.4,534 665.6,532 665.8,532 666.0,535 666.2,532 666.4,536 666.6,532 666.8,533 667.0,531 667.2,529 667.4,532 667.6,533 667.8,533 668.0,532 668.2,535 668.4,533 668.6,531 668.8,532 669.0,528 669.2,531 669.4,533 669.6,531 669.8,532 670.0,530 670.2,533 670.4,531 670.6,531 670.8,534 671.0,533 671.2,532 671.4,528 671.6,531 671.8,531 672.0,529 672.2,528 672.4,529 672.6,529 672.8,530 673.0,528 673.2,529 673.4,529 673.6,528 673.8,529 674.0,528 674.2,526 674.4,528 674.6,529 674.8,532 675.0,525 675.2,528 675.4,527 675.6,529 675.8,528 676.0,529 676.2,531 676.4,529 676.6,530 676.8,533 677.0,532 677.2,529 677.4,534 677.6,530 677.8,532 678.0,531 678.2,531 678.4,531 678.6,533 678.8,530 679.0,530 679.2,530 679.4,531 679.6,528 679.8,531 680.0,529 680.2,531 680.3,532 680.5,526 680.7,530 680.9,528 681.1,528 681.3,526 681.5,529 681.7,528 681.9,525 682.1,529 682.3,531 682.5,529 682.7,530 682.9,528 683.1,527 683.3,528 683.5,527 683.7,526 683.9,529 684.1,528 684.3,527 684.5,528 684.7,528 684.9,529 685.1,531 685.3,529 685.5,528 685.7,532 685.9,534 686.1,530 686.3,530 686.5,530 686.7,532 686.9,533 687.1,532 687.3,534 687.5,530 687.7,532 687.9,531 688.1,535 688.3,535 688.5,535 688.7,532 688.9,535 689.1,534 689.3,534 689.5,534 689.7,533 689.9,533 690.1,531 690.3,532 690.5,532 690.7,531 690.9,527 691.1,534 691.3,531 691.5,531 691.7,531 691.9,532 692.1,534 692.3,532 692.5,532 692.7,530 692.9,532 693.1,533 693.3,532 693.5,532 693.7,531 693.9,533 694.1,534 694.3,533 694.5,533 694.7,533 694.9,532 695.1,532 695.3,533 695.5,534 695.7,534 695.9,535 696.1,535 696.3,537 696.5,536 696.7,534 696.9,535 697.1,533 697.3,537 697.5,534 697.7,534 697.9,537 698.1,533 698.3,533 698.5,533 698.7,532 698.9,533 699.1,532 699.3,532 699.5,531 699.7,531 699.9,530 700.1,531 700.3,532 700.5,528 700.7,531 700.8,532 701.0,529 701.2,528 701.4,533 701.6,532 701.8,534 702.0,533 702.2,533 702.4,532 702.6,533 702.8,531 703.0,532 703.2,534 703.4,532 703.6,533 703.8,532 704.0,532 704.2,531 704.4,533 704.6,533 704.8,533 705.0,530 705.2,532 705.4,536 705.6,531 705.8,529 706.0,531 706.2,532 706.4,530 706.6,530 706.8,532 707.0,531 707.2,530 707.4,532 707.6,530 707.8,529 708.0,532 708.2,530 708.4,532 708.6,530 708.8,531 709.0,532 709.2,531 709.4,531 709.6,531 709.8,531 710.0,530 710.2,530 710.4,528 710.6,531 710.8,526 711.0,528 711.2,525 711.4,527 711.6,528 711.8,525 712.0,529 712.2,525 712.4,526 712.6,528 712.8,526 713.0,529 713.2,529 713.4,524 713.6,526 713.8,528 714.0,529 714.2,527 714.4,528 714.6,530 714.8,528 715.0,530 715.2,527 715.4,531 715.6,531 715.8,528 716.0,526 716.2,527 716.4,531 716.6,529 716.8,531 717.0,528 717.2,529 717.4,530 717.6,532 717.8,530 718.0,529 718.2,531 718.4,531 718.6,532 718.8,531 719.0,531 719.2,532 719.4,529 719.6,532 719.8,534 720.0,533 720.2,531 720.4,530 720.6,534 720.8,531 721.0,531 721.2,532 721.3,531 721.5,531 721.7,533 721.9,530 722.1,533 722.3,531 722.5,531 722.7,532 722.9,531 723.1,532 723.3,531 723.5,529 723.7,532 723.9,530 724.1,529 724.3,531 724.5,531 724.7,530 724.9,529 725.1,530 725.3,531 725.5,526 725.7,522 725.9,521 726.1,519 726.3,514 726.5,509 726.7,508 726.9,507 727.1,505 727.3,507 727.5,506 727.7,508 727.9,510 728.1,510 728.3,514 728.5,515 728.7,516 728.9,519 729.1,520 729.3,520 729.5,522 729.7,522 729.9,526 730.1,523 730.3,526 730.5,528 730.7,525 730.9,526 731.1,526 731.3,525 731.5,530 731.7,528 731.9,527 732.1,528 732.3,529 732.5,528 732.7,528 732.9,530 733.1,528 733.3,528 733.5,529 733.7,528 733.9,529 734.1,528 734.3,533 734.5,528 734.7,530 734.9,528 735.1,527 735.3,528 735.5,528 735.7,527 735.9,527 736.1,527 736.3,528 736.5,527 736.7,523 736.9,524 737.1,523 737.3,519 737.5,519 737.7,519 737.9,522 738.1,519 738.3,520 738.5,522 738.7,521 738.9,521 739.1,523 739.3,523 739.5,520 739.7,522 739.9,525 740.1,523 740.3,527 740.5,526 740.7,526 740.9,524 741.1,524 741.3,526 741.5,526 741.7,528 741.8,529 742.0,527 742.2,528 742.4,525 742.6,527 742.8,527 743.0,528 743.2,529 743.4,530 743.6,528 743.8,529 744.0,526 744.2,535 744.4,528 744.6,526 744.8,529 745.0,528 745.2,530 745.4,528 745.6,529 745.8,532 746.0,529 746.2,529 746.4,530 746.6,530 746.8,528 747.0,530 747.2,530 747.4,529 747.6,527 747.8,530 748.0,531 748.2,530 748.4,530 748.6,532 748.8,530 749.0,532 749.2,529 749.4,528 749.6,530 749.8,530 750.0,531 750.2,534 750.4,531 750.6,532 750.8,533 751.0,533 751.2,530 751.4,528 751.6,532 751.8,527 752.0,526 752.2,526 752.4,530 752.6,526 752.8,528 753.0,528 753.2,528 753.4,527 753.6,529 753.8,529 754.0,531 754.2,529 754.4,529 754.6,528 754.8,530 755.0,530 755.2,528 755.4,526 755.6,527 755.8,529 756.0,528 756.2,528 756.4,530 756.6,532 756.8,529 757.0,529 757.2,535 757.4,530 757.6,529 757.8,531 758.0,531 758.2,530 758.4,529 758.6,531 758.8,529 759.0,528 759.2,532 759.4,533 759.6,532 759.8,530 760.0,526 760.2,530 760.4,532 760.6,531 760.8,533 761.0,530 761.2,532 761.4,531 761.6,531 761.8,529 762.0,530 762.2,531 762.3,529 762.5,528 762.7,528 762.9,527 763.1,529 763.3,527 763.5,528 763.7,528 763.9,527 764.1,528 764.3,525 764.5,527 764.7,529 764.9,527 765.1,529 765.3,526 765.5,528 765.7,527 765.9,528 766.1,528 766.3,531 766.5,523 766.7,526 766.9,527 767.1,528 767.3,527 767.5,527 767.7,526 767.9,526 768.1,527 768.3,530 768.5,527 768.7,532 768.9,529 769.1,527 769.3,528 769.5,528 769.7,525 769.9,524 770.1,528 770.3,525 770.5,527 770.7,527 770.9,524 771.1,528 771.3,528 771.5,529 771.7,528 771.9,529 772.1,529 772.3,528 772.5,531 772.7,530 772.9,531 773.1,529 773.3,531 773.5,528 773.7,528 773.9,530 774.1,529 774.3,528 774.5,529 774.7,527 774.9,529 775.1,530 775.3,528 775.5,527 775.7,531 775.9,530 776.1,528 776.3,528 776.5,527 776.7,526 776.9,526 777.1,527 777.3,529 777.5,529 777.7,527 777.9,529 778.1,527 778.3,524 778.5,523 778.7,522 778.9,521 779.1,520 779.3,515 779.5,514 779.7,520 779.9,517 780.1,519 780.3,518 780.5,516 780.7,521 780.9,520 781.1,522 781.3,522 781.5,520 781.7,522 781.9,524 782.1,522 782.3,524 782.5,526 782.7,524 782.8,525 783.0,526 783.2,527 783.4,526 783.6,526 783.8,528 784.0,527 784.2,528 784.4,528 784.6,528 784.8,529 785.0,530 785.2,527 785.4,529 785.6,528 785.8,528 786.0,529 786.2,530 786.4,528 786.6,528 786.8,526 787.0,528 787.2,528 787.4,526 787.6,526 787.8,526 788.0,526 788.2,522 788.4,524 788.6,520 788.8,515 789.0,516 789.2,514 789.4,512 789.6,512 789.8,512 790.0,513 790.2,515 790.4,517 790.6,515 790.8,517 791.0,511 791.2,514 791.4,518 791.6,519 791.8,521 792.0,523 792.2,520 792.4,522 792.6,523 792.8,522 793.0,523 793.2,523 793.4,525 793.6,521 793.8,520 794.0,524 794.2,525 794.4,526 794.6,524 794.8,526 795.0,524 795.2,526 795.4,525 795.6,524 795.8,527 796.0,525 796.2,525 796.4,528 796.6,527 796.8,524 797.0,529 797.2,526 797.4,527 797.6,527 797.8,531 798.0,528 798.2,529 798.4,528 798.6,529 798.8,526 799.0,520 799.2,527 799.4,526 799.6,528 799.8,529 800.0,529 800.2,527 800.4,529 800.6,526 800.8,528 801.0,529 801.2,528 801.4,527 801.6,528 801.8,527 802.0,527 802.2,529 802.4,525 802.6,529 802.8,528 803.0,527 803.2,524 803.3,524 803.5,523 803.7,524 803.9,522 804.1,522 804.3,519 804.5,515 804.7,515 804.9,516 805.1,517 805.3,515 805.5,518 805.7,518 805.9,518 806.1,519 806.3,524 806.5,522 806.7,525 806.9,524 807.1,523 807.3,526 807.5,525 807.7,527 807.9,524 808.1,528 808.3,527 808.5,535 808.7,529 808.9,528 809.1,528 809.3,529 809.5,529 809.7,528 809.9,532 810.1,529 810.3,530 810.5,531 810.7,529 810.9,530 811.1,529 811.3,530 811.5,529 811.7,529 811.9,528 812.1,527 812.3,527 812.5,526 812.7,526 812.9,527 813.1,523 813.3,522 813.5,521 813.7,522 813.9,523 814.1,521 814.3,522 814.5,519 814.7,523 814.9,524 815.1,523 815.3,522 815.5,525 815.7,525 815.9,528 816.1,525 816.3,526 816.5,526 816.7,526 816.9,524 817.1,529 817.3,528 817.5,527 817.7,527 817.9,528 818.1,528 818.3,527 818.5,528 818.7,528 818.9,523 819.1,528 819.3,528 819.5,528 819.7,527 819.9,527 820.1,529 820.3,530 820.5,529 820.7,524 820.9,527 821.1,530 821.3,532 821.5,531 821.7,529 821.9,529 822.1,529 822.3,532 822.5,530 822.7,529 822.9,532 823.1,532 823.3,528 823.5,530 823.7,533 823.9,533 824.0,530 824.2,532 824.4,533 824.6,533 824.8,531 825.0,532 825.2,533 825.4,533 825.6,531 825.8,535 826.0,532 826.2,529 826.4,531 826.6,527 826.8,530 827.0,531 827.2,534 827.4,531 827.6,531 827.8,531 828.0,530 828.2,529 828.4,532 828.6,531 828.8,532 829.0,531 829.2,528 829.4,529 829.6,529 829.8,528 830.0,529 830.2,528 830.4,527 830.6,530 830.8,529 831.0,527 831.2,525 831.4,526 831.6,525 831.8,525 832.0,525 832.2,527 832.4,528 832.6,528 832.8,526 833.0,528 833.2,531 833.4,529 833.6,528 833.8,533 834.0,529 834.2,528 834.4,530 834.6,528 834.8,524 835.0,530 835.2,528 835.4,527 835.6,529 835.8,529 836.0,526 836.2,532 836.4,529 836.6,528 836.8,528 837.0,525 837.2,523 837.4,521 837.6,518 837.8,516 838.0,508 838.2,506 838.4,506 838.6,506 838.8,505 839.0,507 839.2,509 839.4,511 839.6,516 839.8,518 840.0,519 840.2,519 840.4,521 840.6,521 840.8,519 841.0,517 841.2,513 841.4,510 841.6,507 841.8,508 842.0,508 842.2,507 842.4,506 842.6,510 842.8,509 843.0,513 843.2,513 843.4,513 843.6,517 843.8,516 844.0,518 844.2,519 844.4,518 844.5,521 844.7,519 844.9,521 845.1,525 845.3,522 845.5,523 845.7,522 845.9,526 846.1,523 846.3,524 846.5,525 846.7,525 846.9,524 847.1,526 847.3,526 847.5,527 847.7,526 847.9,527 848.1,528 848.3,528 848.5,527 848.7,528 848.9,528 849.1,530 849.3,529 849.5,529 849.7,530 849.9,528 850.1,530 850.3,529 850.5,526 850.7,529 850.9,527 851.1,531 851.3,528 851.5,525 851.7,525 851.9,525 852.1,523 852.3,523 852.5,523 852.7,522 852.9,520 853.1,518 853.3,521 853.5,522 853.7,518 853.9,520 854.1,521 854.3,520 854.5,523 854.7,523 854.9,523 855.1,521 855.3,521 855.5,522 855.7,522 855.9,522 856.1,521 856.3,521 856.5,522 856.7,523 856.9,521 857.1,520 857.3,519 857.5,518 857.7,519 857.9,515 858.1,517 858.3,515 858.5,518 858.7,518 858.9,519 859.1,518 859.3,519 859.5,518 859.7,521 859.9,523 860.1,518 860.3,524 860.5,522 860.7,524 860.9,523 861.1,524 861.3,526 861.5,525 861.7,528 861.9,526 862.1,527 862.3,525 862.5,526 862.7,526 862.9,528 863.1,530 863.3,528 863.5,526 863.7,528 863.9,527 864.1,530 864.3,529 864.5,528 864.7,529 864.9,531 865.0,531 865.2,530 865.4,532 865.6,532 865.8,530 866.0,532 866.2,534 866.4,530 866.6,533 866.8,532 867.0,533 867.2,533 867.4,533 867.6,532 867.8,532 868.0,533 868.2,533 868.4,530 868.6,533 868.8,534 869.0,533 869.2,532 869.4,529 869.6,532 869.8,531 870.0,532 870.2,529 870.4,530 870.6,529 870.8,530 871.0,528 871.2,529 871.4,530 871.6,530 871.8,533 872.0,530 872.2,530 872.4,533 872.6,530 872.8,533 873.0,532 873.2,531 873.4,531 873.6,532 873.8,531 874.0,532 874.2,531 874.4,532 874.6,530 874.8,530 875.0,530 875.2,529 875.4,529 875.6,529 875.8,527 876.0,526 876.2,529 876.4,526 876.6,525 876.8,524 877.0,526 877.2,522 877.4,519 877.6,519 877.8,518 878.0,520 878.2,519 878.4,521 878.6,520 878.8,519 879.0,521 879.2,523 879.4,519 879.6,522 879.8,521 880.0,522 880.2,520 880.4,521 880.6,525 880.8,523 881.0,523 881.2,527 881.4,526 881.6,526 881.8,524 882.0,525 882.2,528 882.4,523 882.6,524 882.8,525 883.0,528 883.2,527 883.4,528 883.6,528 883.8,528 884.0,529 884.2,533 884.4,529 884.6,530 884.8,528 885.0,531 885.2,529 885.4,529 885.5,529 885.7,529 885.9,529 886.1,529 886.3,528 886.5,533 886.7,531 886.9,532 887.1,531 887.3,527 887.5,529 887.7,527 887.9,526 888.1,527 888.3,527 888.5,527 888.7,527 888.9,527 889.1,527 889.3,529 889.5,530 889.7,529 889.9,527 890.1,528 890.3,529 890.5,529 890.7,529 890.9,529 891.1,528 891.3,527 891.5,525 891.7,530 891.9,529 892.1,527 892.3,529 892.5,528 892.7,528 892.9,531 893.1,529 893.3,533 893.5,529 893.7,529 893.9,530 894.1,534 894.3,530 894.5,531 894.7,528 894.9,532 895.1,529 895.3,531 895.5,533 895.7,531 895.9,532 896.1,531 896.3,531 896.5,532 896.7,533 896.9,532 897.1,531 897.3,530 897.5,529 897.7,532 897.9,532 898.1,532 898.3,534 898.5,533 898.7,531 898.9,533 899.1,533 899.3,532 899.5,530 899.7,532 899.9,533 900.1,534 900.3,533 900.5,531 900.7,535 900.9,533 901.1,533 901.3,534 901.5,534 901.7,533 901.9,532 902.1,532 902.3,534 902.5,532 902.7,533 902.9,529 903.1,531 903.3,530 903.5,530 903.7,527 903.9,528 904.1,531 904.3,528 904.5,526 904.7,526 904.9,524 905.1,526 905.3,525 905.5,525 905.7,527 905.9,527 906.0,527 906.2,524 906.4,526 906.6,529 906.8,526 907.0,529 907.2,528 907.4,532 907.6,528 907.8,527 908.0,527 908.2,531 908.4,529 908.6,527 908.8,530 909.0,527 909.2,529 909.4,529 909.6,529 909.8,529 910.0,527 910.2,523 910.4,527 910.6,526 910.8,525 911.0,526 911.2,527 911.4,526 911.6,528 911.8,529 912.0,527 912.2,526 912.4,525 912.6,528 912.8,525 913.0,530 913.2,529 913.4,527 913.6,529 913.8,527 914.0,526 914.2,529 914.4,526 914.6,528 914.8,528 915.0,530 915.2,528 915.4,530 915.6,529 915.8,527 916.0,526 916.2,525 916.4,525 916.6,524 916.8,527 917.0,526 917.2,528 917.4,530 917.6,528 917.8,529 918.0,529 918.2,531 918.4,528 918.6,531 918.8,530 919.0,529 919.2,529 919.4,532 919.6,531 919.8,531 920.0,529 920.2,529 920.4,528 920.6,527 920.8,528 921.0,528 921.2,527 921.4,526 921.6,528 921.8,526 922.0,524 922.2,528 922.4,525 922.6,520 922.8,514 923.0,511 923.2,503 923.4,498 923.6,490 923.8,484 924.0,485 924.2,483 924.4,483 924.6,485 924.8,486 925.0,489 925.2,493 925.4,495 925.6,496 925.8,499 926.0,501 926.2,501 926.4,506 926.5,506 926.7,505 926.9,510 927.1,509 927.3,512 927.5,514 927.7,513 927.9,515 928.1,518 928.3,515 928.5,515 928.7,518 928.9,518 929.1,522 929.3,520 929.5,520 929.7,519 929.9,516 930.1,516 930.3,516 930.5,516 930.7,515 930.9,515 931.1,516 931.3,514 931.5,515 931.7,515 931.9,518 932.1,514 932.3,519 932.5,519 932.7,516 932.9,519 933.1,522 933.3,519 933.5,520 933.7,521 933.9,524 934.1,523 934.3,522 934.5,522 934.7,522 934.9,525 935.1,522 935.3,525 935.5,527 935.7,525 935.9,526 936.1,527 936.3,528 936.5,526 936.7,528 936.9,528 937.1,529 937.3,526 937.5,530 937.7,528 937.9,529 938.1,528 938.3,532 938.5,529 938.7,532 938.9,528 939.1,529 939.3,531 939.5,529 939.7,530 939.9,531 940.1,529 940.3,528 940.5,529 940.7,530 940.9,530 941.1,531 941.3,529 941.5,528 941.7,527 941.9,529 942.1,528 942.3,529 942.5,528 942.7,528 942.9,528 943.1,530 943.3,528 943.5,527 943.7,528 943.9,528 944.1,524 944.3,523 944.5,518 944.7,516 944.9,515 945.1,513 945.3,509 945.5,503 945.7,497 945.9,494 946.1,487 946.3,487 946.5,484 946.7,486 946.9,489 947.1,491 947.2,490 947.4,492 947.6,491 947.8,495 948.0,500 948.2,502 948.4,504 948.6,505 948.8,510 949.0,508 949.2,509 949.4,515 949.6,511 949.8,514 950.0,514 950.2,518 950.4,516 950.6,517 950.8,518 951.0,520 951.2,518 951.4,518 951.6,520 951.8,520 952.0,522 952.2,521 952.4,521 952.6,523 952.8,523 953.0,524 953.2,522 953.4,519 953.6,520 953.8,518 954.0,516 954.2,515 954.4,511 954.6,510 954.8,507 955.0,509 955.2,505 955.4,504 955.6,506 955.8,512 956.0,509 956.2,510 956.4,511 956.6,511 956.8,512 957.0,513 957.2,516 957.4,516 957.6,515 957.8,516 958.0,517 958.2,515 958.4,519 958.6,517 958.8,519 959.0,519 959.2,520 959.4,522 959.6,521 959.8,520 960.0,520 960.2,522 960.4,520 960.6,520 960.8,520 961.0,519 961.2,520 961.4,517 961.6,517 961.8,515 962.0,514 962.2,517 962.4,518 962.6,516 962.8,519 963.0,519 963.2,517 963.4,521 963.6,518 963.8,521 964.0,523 964.2,521 964.4,526 964.6,523 964.8,526 965.0,525 965.2,527 965.4,526 965.6,530 965.8,527 966.0,528 966.2,528 966.4,528 966.6,527 966.8,529 967.0,529 967.2,529 967.4,528 967.6,527 967.7,529 967.9,526 968.1,528 968.3,525 968.5,527 968.7,528 968.9,526 969.1,527 969.3,530 969.5,529 969.7,530 969.9,530 970.1,530 970.3,530 970.5,529 970.7,530 970.9,526 971.1,526 971.3,530 971.5,529 971.7,528 971.9,527 972.1,528 972.3,527 972.5,525 972.7,528 972.9,526 973.1,527 973.3,524 973.5,523 973.7,527 973.9,529 974.1,524 974.3,526 974.5,528 974.7,527 974.9,527 975.1,527 975.3,526 975.5,529 975.7,529 975.9,528 976.1,525 976.3,530 976.5,528 976.7,528 976.9,530 977.1,529 977.3,527 977.5,529 977.7,528 977.9,526 978.1,526 978.3,523 978.5,523 978.7,525 978.9,526 979.1,522 979.3,525 979.5,523 979.7,525 979.9,522 980.1,526 980.3,523 980.5,522 980.7,523 980.9,520 981.1,523 981.3,523 981.5,524 981.7,523 981.9,520 982.1,520 982.3,523 982.5,523 982.7,526 982.9,524 983.1,526 983.3,526 983.5,529 983.7,527 983.9,537 984.1,526 984.3,528 984.5,529 984.7,528 984.9,529 985.1,527 985.3,528 985.5,529 985.7,528 985.9,530 986.1,529 986.3,527 986.5,527 986.7,528 986.9,527 987.1,527 987.3,526 987.5,529 987.7,528 987.9,529 988.1,529 988.2,525 988.4,529 988.6,528 988.8,530 989.0,530 989.2,530 989.4,531 989.6,527 989.8,528 990.0,530 990.2,530 990.4,526 990.6,528 990.8,526 991.0,522 991.2,522 991.4,523 991.6,522 991.8,525 992.0,524 992.2,524 992.4,522 992.6,522 992.8,523 993.0,526 993.2,527 993.4,524 993.6,525 993.8,522 994.0,527 994.2,524 994.4,527 994.6,528 994.8,524 995.0,525 995.2,527 995.4,528 995.6,526 995.8,525 996.0,528 996.2,529 996.4,526 996.6,527 996.8,529 997.0,528 997.2,526 997.4,527 997.6,527 997.8,527 998.0,525 998.2,524 998.4,520 998.6,522 998.8,521 999.0,520 999.2,519 999.4,519 999.6,520 999.8,518 1000.0,518 1000.2,521 1000.4,520 1000.6,520 1000.8,522 1001.0,521 1001.2,522 1001.4,521 1001.6,525 1001.8,521 1002.0,525 1002.2,522 1002.4,523 1002.6,524 1002.8,526 1003.0,525 1003.2,524 1003.4,523 1003.6,526 1003.8,525 1004.0,526 1004.2,525 1004.4,524 1004.6,526 1004.8,525 1005.0,526 1005.2,525 1005.4,522 1005.6,525 1005.8,524 1006.0,524 1006.2,517 1006.4,524 1006.6,526 1006.8,525 1007.0,527 1007.2,528 1007.4,530 1007.6,526 1007.8,529 1008.0,529 1008.2,528 1008.4,526 1008.6,527 1008.7,530 1008.9,528 1009.1,526 1009.3,528 1009.5,528 1009.7,529 1009.9,529 1010.1,528 1010.3,527 1010.5,525 1010.7,527 1010.9,529 1011.1,525 1011.3,529 1011.5,524 1011.7,526 1011.9,528 1012.1,527 1012.3,528 1012.5,526 1012.7,526 1012.9,530 1013.1,527 1013.3,530 1013.5,530 1013.7,530 1013.9,526 1014.1,531 1014.3,528 1014.5,529 1014.7,529 1014.9,528 1015.1,528 1015.3,529 1015.5,530 1015.7,530 1015.9,529 1016.1,530 1016.3,529 1016.5,531 1016.7,527 1016.9,529 1017.1,529 1017.3,529 1017.5,529 1017.7,530 1017.9,529 1018.1,530 1018.3,528 1018.5,529 1018.7,528 1018.9,530 1019.1,530 1019.3,531 1019.5,529 1019.7,529 1019.9,533 1020.1,531 1020.3,528 1020.5,531 1020.7,531 1020.9,530 1021.1,530 1021.3,530 1021.5,530 1021.7,530 1021.9,529 1022.1,530 1022.3,529 1022.5,531 1022.7,532 1022.9,530 1023.1,530 1023.3,531 1023.5,530 1023.7,533 1023.9,527 1024.1,527 1024.3,529 1024.5,532 1024.7,532 1024.9,531 1025.1,531 1025.3,531 1025.5,532 1025.7,534 1025.9,528 1026.1,534 1026.3,533 1026.5,531 1026.7,532 1026.9,531 1027.1,531 1027.3,526 1027.5,531 1027.7,529 1027.9,531 1028.1,529 1028.3,529 1028.5,531 1028.7,529 1028.9,530 1029.1,530 1029.2,529 1029.4,527 1029.6,529 1029.8,528 1030.0,531 1030.2,527 1030.4,530 1030.6,526 1030.8,528 1031.0,531 1031.2,529 1031.4,530 1031.6,529 1031.8,528 1032.0,529 1032.2,529 1032.4,529 1032.6,532 1032.8,530 1033.0,527 1033.2,532 1033.4,530 1033.6,531 1033.8,532 1034.0,529 1034.2,531 1034.4,530 1034.6,530 1034.8,530 1035.0,526 1035.2,532 1035.4,531 1035.6,530 1035.8,532 1036.0,527 1036.2,530 1036.4,530 1036.6,530 1036.8,532 1037.0,530 1037.2,532 1037.4,530 1037.6,532 1037.8,531 1038.0,531 1038.2,536 1038.4,532 1038.6,530 1038.8,533 1039.0,531 1039.2,532 1039.4,528 1039.6,531 1039.8,529 1040.0,532 1040.2,530 1040.4,530 1040.6,531 1040.8,529 1041.0,530 1041.2,529 1041.4,530 1041.6,531 1041.8,532 1042.0,532 1042.2,529 1042.4,528 1042.6,530 1042.8,532 1043.0,528 1043.2,532 1043.4,531 1043.6,526 1043.8,530 1044.0,533 1044.2,531 1044.4,532 1044.6,531 1044.8,528 1045.0,527 1045.2,529 1045.4,530 1045.6,529 1045.8,529 1046.0,532 1046.2,533 1046.4,528 1046.6,529 1046.8,531 1047.0,531 1047.2,528 1047.4,536 1047.6,532 1047.8,532 1048.0,529 1048.2,532 1048.4,530 1048.6,532 1048.8,532 1049.0,531 1049.2,532 1049.4,531 1049.6,532 1049.7,528 1049.9,532 1050.1,531 1050.3,535 1050.5,532 1050.7,528 1050.9,534 1051.1,531 1051.3,531 1051.5,532 1051.7,534 1051.9,535 1052.1,532 1052.3,533 1052.5,532 1052.7,531 1052.9,531 1053.1,531 1053.3,531 1053.5,533 1053.7,528 1053.9,528 1054.1,531 1054.3,532 1054.5,529 1054.7,529 1054.9,530 1055.1,528 1055.3,528 1055.5,528 1055.7,528 1055.9,527 1056.1,527 1056.3,527 1056.5,527 1056.7,526 1056.9,529 1057.1,528 1057.3,527 1057.5,526 1057.7,528 1057.9,527 1058.1,527 1058.3,528 1058.5,527 1058.7,529 1058.9,526 1059.1,527 1059.3,528 1059.5,527 1059.7,528 1059.9,529 1060.1,530 1060.3,529 1060.5,527 1060.7,527 1060.9,527 1061.1,529 1061.3,527 1061.5,526 1061.7,525 1061.9,527 1062.1,524 1062.3,520 1062.5,523 1062.7,519 1062.9,516 1063.1,512 1063.3,506 1063.5,500 1063.7,495 1063.9,491 1064.1,489 1064.3,490 1064.5,495 1064.7,497 1064.9,502 1065.1,500 1065.3,504 1065.5,506 1065.7,508 1065.9,510 1066.1,511 1066.3,513 1066.5,517 1066.7,520 1066.9,521 1067.1,520 1067.3,522 1067.5,522 1067.7,523 1067.9,524 1068.1,525 1068.3,523 1068.5,527 1068.7,525 1068.9,524 1069.1,529 1069.3,524 1069.5,526 1069.7,525 1069.9,528 1070.1,522 1070.3,527 1070.4,524 1070.6,529 1070.8,529 1071.0,528 1071.2,526 1071.4,529 1071.6,530 1071.8,528 1072.0,527 1072.2,529 1072.4,525 1072.6,527 1072.8,527 1073.0,528 1073.2,529 1073.4,527 1073.6,525 1073.8,525 1074.0,526 1074.2,526 1074.4,526 1074.6,525 1074.8,521 1075.0,522 1075.2,519 1075.4,520 1075.6,516 1075.8,514 1076.0,512 1076.2,512 1076.4,510 1076.6,514 1076.8,512 1077.0,509 1077.2,511 1077.4,513 1077.6,513 1077.8,513 1078.0,514 1078.2,512 1078.4,513 1078.6,517 1078.8,515 1079.0,517 1079.2,518 1079.4,515 1079.6,516 1079.8,520 1080.0,519 1080.2,520 1080.4,522 1080.6,521 1080.8,522 1081.0,528 1081.2,521 1081.4,526 1081.6,525 1081.8,524 1082.0,527 1082.2,524 1082.4,525 1082.6,525 1082.8,526 1083.0,526 1083.2,528 1083.4,527 1083.6,528 1083.8,529 1084.0,529 1084.2,529 1084.4,529 1084.6,528 1084.8,526 1085.0,529 1085.2,527 1085.4,529 1085.6,529 1085.8,524 1086.0,529 1086.2,530 1086.4,528 1086.6,529 1086.8,530 1087.0,529 1087.2,531 1087.4,529 1087.6,529 1087.8,532 1088.0,530 1088.2,530 1088.4,531 1088.6,529 1088.8,530 1089.0,531 1089.2,531 1089.4,533 1089.6,532 1089.8,533 1090.0,530 1090.2,532 1090.4,532 1090.6,532 1090.8,532 1090.9,532 1091.1,532 1091.3,534 1091.5,532 1091.7,530 1091.9,533 1092.1,533 1092.3,531 1092.5,532 1092.7,528 1092.9,531 1093.1,530 1093.3,533 1093.5,530 1093.7,532 1093.9,529 1094.1,529 1094.3,529 1094.5,528 1094.7,529 1094.9,532 1095.1,528 1095.3,531 1095.5,533 1095.7,532 1095.9,532 1096.1,532 1096.3,533 1096.5,529 1096.7,534 1096.9,533 1097.1,531 1097.3,532 1097.5,532 1097.7,533 1097.9,530 1098.1,530 1098.3,530 1098.5,533 1098.7,531 1098.9,531 1099.1,529 1099.3,531 1099.5,530 1099.7,530 1099.9,532 1100.1,531 1100.3,530 1100.5,536 1100.7,530 1100.9,529 1101.1,529 1101.3,533 1101.5,531 1101.7,531 1101.9,532 1102.1,531 1102.3,531 1102.5,533 1102.7,531 1102.9,531 1103.1,530 1103.3,523 1103.5,531 1103.7,529 1103.9,528 1104.1,524 1104.3,524 1104.5,522 1104.7,522 1104.9,522 1105.1,522 1105.3,522 1105.5,523 1105.7,524 1105.9,525 1106.1,522 1106.3,527 1106.5,528 1106.7,528 1106.9,526 1107.1,525 1107.3,527 1107.5,529 1107.7,528 1107.9,525 1108.1,523 1108.3,528 1108.5,532 1108.7,526 1108.9,528 1109.1,529 1109.3,529 1109.5,530 1109.7,527 1109.9,529 1110.1,528 1110.3,530 1110.5,530 1110.7,530 1110.9,527 1111.1,527 1111.3,527 1111.4,527 1111.6,526 1111.8,525 1112.0,530 1112.2,523 1112.4,526 1112.6,523 1112.8,521 1113.0,523 1113.2,521 1113.4,523 1113.6,524 1113.8,526 1114.0,524 1114.2,523 1114.4,525 1114.6,524 1114.8,525 1115.0,521 1115.2,524 1115.4,525 1115.6,527 1115.8,524 1116.0,526 1116.2,525 1116.4,523 1116.6,528 1116.8,523 1117.0,519 1117.2,517 1117.4,513 1117.6,511 1117.8,509 1118.0,509 1118.2,507 1118.4,509 1118.6,510 1118.8,513 1119.0,510 1119.2,515 1119.4,513 1119.6,517 1119.8,513 1120.0,516 1120.2,514 1120.4,516 1120.6,519 1120.8,521 1121.0,520 1121.2,522 1121.4,522 1121.6,526 1121.8,523 1122.0,527 1122.2,527 1122.4,524 1122.6,526 1122.8,525 1123.0,528 1123.2,527 1123.4,529 1123.6,526 1123.8,526 1124.0,525 1124.2,527 1124.4,527 1124.6,527 1124.8,529 1125.0,528 1125.2,527 1125.4,526 1125.6,526 1125.8,527 1126.0,527 1126.2,529 1126.4,529 1126.6,527 1126.8,529 1127.0,527 1127.2,530 1127.4,526 1127.6,530 1127.8,528 1128.0,529 1128.2,529 1128.4,527 1128.6,529 1128.8,529 1129.0,530 1129.2,530 1129.4,531 1129.6,530 1129.8,528 1130.0,531 1130.2,528 1130.4,529 1130.6,530 1130.8,529 1131.0,530 1131.2,532 1131.4,530 1131.6,529 1131.8,529 1131.9,535 1132.1,530 1132.3,531 1132.5,532 1132.7,533 1132.9,531 1133.1,531 1133.3,532 1133.5,531 1133.7,531 1133.9,530 1134.1,533 1134.3,533 1134.5,535 1134.7,532 1134.9,533 1135.1,535 1135.3,530 1135.5,534 1135.7,531 1135.9,530 1136.1,532 1136.3,531 1136.5,529 1136.7,530 1136.9,532 1137.1,530 1137.3,529 1137.5,528 1137.7,528 1137.9,528 1138.1,527 1138.3,528 1138.5,528 1138.7,525 1138.9,527 1139.1,527 1139.3,526 1139.5,526 1139.7,529 1139.9,527 1140.1,527 1140.3,527 1140.5,527 1140.7,527 1140.9,528 1141.1,526 1141.3,526 1141.5,528 1141.7,521 1141.9,529 1142.1,530 1142.3,530 1142.5,531 1142.7,530 1142.9,527 1143.1,530 1143.3,532 1143.5,530 1143.7,530 1143.9,528 1144.1,531 1144.3,528 1144.5,528 1144.7,530 1144.9,531 1145.1,530 1145.3,530 1145.5,529 1145.7,533 1145.9,531 1146.1,530 1146.3,530 1146.5,530 1146.7,532 1146.9,525 1147.1,529 1147.3,530 1147.5,529 1147.7,528 1147.9,529 1148.1,529 1148.3,529 1148.5,530 1148.7,530 1148.9,532 1149.1,530 1149.3,530 1149.5,528 1149.7,529 1149.9,527 1150.1,527 1150.3,533 1150.5,531 1150.7,528 1150.9,528 1151.1,528 1151.3,528 1151.5,527 1151.7,527 1151.9,528 1152.1,530 1152.3,528 1152.4,526 1152.6,529 1152.8,529 1153.0,528 1153.2,528 1153.4,525 1153.6,529 1153.8,530 1154.0,531 1154.2,531 1154.4,529 1154.6,530 1154.8,531 1155.0,531 1155.2,531 1155.4,531 1155.6,527 1155.8,530 1156.0,530 1156.2,528 1156.4,529 1156.6,528 1156.8,527 1157.0,526 1157.2,529 1157.4,529 1157.6,529 1157.8,528 1158.0,527 1158.2,525 1158.4,526 1158.6,525 1158.8,528 1159.0,523 1159.2,522 1159.4,522 1159.6,525 1159.8,523 1160.0,525 1160.2,524 1160.4,526 1160.6,523 1160.8,525 1161.0,527 1161.2,524 1161.4,526 1161.6,529 1161.8,526 1162.0,527 1162.2,530 1162.4,531 1162.6,528 1162.8,527 1163.0,528 1163.2,527 1163.4,529 1163.6,531 1163.8,530 1164.0,530 1164.2,528 1164.4,530 1164.6,529 1164.8,529 1165.0,529 1165.2,526 1165.4,527 1165.6,527 1165.8,524 1166.0,525 1166.2,526 1166.4,526 1166.6,527 1166.8,524 1167.0,526 1167.2,523 1167.4,522 1167.6,525 1167.8,526 1168.0,524 1168.2,526 1168.4,527 1168.6,527 1168.8,527 1169.0,529 1169.2,527 1169.4,527 1169.6,529 1169.8,529 1170.0,528 1170.2,530 1170.4,530 1170.6,528 1170.8,529 1171.0,528 1171.2,530 1171.4,529 1171.6,532 1171.8,526 1172.0,528 1172.2,529 1172.4,530 1172.6,529 1172.8,529 1172.9,530 1173.1,529 1173.3,530 1173.5,530 1173.7,530 1173.9,527 1174.1,527 1174.3,529 1174.5,528 1174.7,527 1174.9,528 1175.1,527 1175.3,527 1175.5,528 1175.7,526 1175.9,528 1176.1,526 1176.3,527 1176.5,525 1176.7,524 1176.9,524 1177.1,525 1177.3,528 1177.5,527 1177.7,527 1177.9,526 1178.1,526 1178.3,529 1178.5,529 1178.7,530 1178.9,531 1179.1,530 1179.3,532 1179.5,530 1179.7,533 1179.9,531 1180.1,530 1180.3,532 1180.5,534 1180.7,530 1180.9,531 1181.1,531 1181.3,532 1181.5,540 1181.7,534 1181.9,531 1182.1,532 1182.3,531 1182.5,530 1182.7,531 1182.9,531 1183.1,532 1183.3,533 1183.5,530 1183.7,532 1183.9,529 1184.1,533 1184.3,529 1184.5,530 1184.7,527 1184.9,530 1185.1,529 1185.3,532 1185.5,529 1185.7,532 1185.9,529 1186.1,532 1186.3,532 1186.5,531 1186.7,532 1186.9,531 1187.1,531 1187.3,532 1187.5,529 1187.7,531 1187.9,531 1188.1,531 1188.3,531 1188.5,526 1188.7,531 1188.9,532 1189.1,533 1189.3,533 1189.5,531 1189.7,532 1189.9,531 1190.1,532 1190.3,531 1190.5,534 1190.7,533 1190.9,533 1191.1,532 1191.3,532 1191.5,532 1191.7,531 1191.9,532 1192.1,532 1192.3,530 1192.5,531 1192.7,529 1192.9,533 1193.1,531 1193.3,531 1193.4,530 1193.6,528 1193.8,529 1194.0,531 1194.2,532 1194.4,531 1194.6,529 1194.8,530 1195.0,531 1195.2,528 1195.4,531 1195.6,528 1195.8,530 1196.0,531 1196.2,530 1196.4,530 1196.6,531 1196.8,529 1197.0,529 1197.2,528 1197.4,530 1197.6,531 1197.8,529 1198.0,527 1198.2,530 1198.4,531 1198.6,529 1198.8,530 1199.0,530 1199.2,529 1199.4,531 1199.6,531 1199.8,529 1200.0,527 1200.2,530 1200.4,533 1200.6,533 1200.8,531 1201.0,530 1201.2,534 1201.4,533 1201.6,534 1201.8,535 1202.0,533 1202.2,533 1202.4,532 1202.6,533 1202.8,531 1203.0,534 1203.2,532 1203.4,534 1203.6,531 1203.8,532 1204.0,530 1204.2,532 1204.4,530 1204.6,533 1204.8,531 1205.0,528 1205.2,529 1205.4,531 1205.6,530 1205.8,533 1206.0,529 1206.2,530 1206.4,531 1206.6,531 1206.8,533 1207.0,531 1207.2,528 1207.4,533 1207.6,531 1207.8,529 1208.0,530 1208.2,530 1208.4,531 1208.6,532 1208.8,530 1209.0,529 1209.2,529 1209.4,530 1209.6,530 1209.8,530 1210.0,526 1210.2,528 1210.4,530 1210.6,531 1210.8,530 1211.0,526 1211.2,526 1211.4,530 1211.6,529 1211.8,530 1212.0,533 1212.2,529 1212.4,532 1212.6,531 1212.8,530 1213.0,528 1213.2,530 1213.4,534 1213.6,532 1213.8,533 1214.0,533 1214.1,532 1214.3,533 1214.5,533 1214.7,532 1214.9,532 1215.1,531 1215.3,532 1215.5,531 1215.7,533 1215.9,531 1216.1,530 1216.3,528 1216.5,532 1216.7,534 1216.9,531 1217.1,528 1217.3,532 1217.5,530 1217.7,532 1217.9,531 1218.1,532 1218.3,531 1218.5,531 1218.7,533 1218.9,532 1219.1,534 1219.3,532 1219.5,533 1219.7,533 1219.9,535 1220.1,533 1220.3,534 1220.5,536 1220.7,536 1220.9,535 1221.1,534 1221.3,536 1221.5,536 1221.7,537 1221.9,535 1222.1,536 1222.3,533 1222.5,535 1222.7,534 1222.9,532 1223.1,534 1223.3,541 1223.5,534 1223.7,535 1223.9,531 1224.1,532 1224.3,538 1224.5,533 1224.7,535 1224.9,533 1225.1,535 1225.3,533 1225.5,534 1225.7,534 1225.9,535 1226.1,532 1226.3,531 1226.5,534 1226.7,533 1226.9,533 1227.1,531 1227.3,533 1227.5,532 1227.7,530 1227.9,531 1228.1,533 1228.3,532 1228.5,532 1228.7,532 1228.9,531 1229.1,533 1229.3,531 1229.5,529 1229.7,529 1229.9,530 1230.1,530 1230.3,531 1230.5,527 1230.7,531 1230.9,531 1231.1,530 1231.3,532 1231.5,530 1231.7,531 1231.9,530 1232.1,533 1232.3,531 1232.5,533 1232.7,530 1232.9,532 1233.1,531 1233.3,533 1233.5,534 1233.7,535 1233.9,533 1234.1,534 1234.3,533 1234.5,532 1234.6,536 1234.8,534 1235.0,535 1235.2,535 1235.4,532 1235.6,532 1235.8,533 1236.0,534 1236.2,534 1236.4,533 1236.6,534 1236.8,532 1237.0,533 1237.2,532 1237.4,535 1237.6,534 1237.8,535 1238.0,534 1238.2,531 1238.4,533 1238.6,535 1238.8,535 1239.0,536 1239.2,536 1239.4,534 1239.6,536 1239.8,532 1240.0,535 1240.2,531 1240.4,535 1240.6,531 1240.8,534 1241.0,536 1241.2,533 1241.4,534 1241.6,534 1241.8,529 1242.0,530 1242.2,533 1242.4,531 1242.6,532 1242.8,537 1243.0,536 1243.2,534 1243.4,532 1243.6,534 1243.8,534 1244.0,533 1244.2,536 1244.4,531 1244.6,536 1244.8,533 1245.0,535 1245.2,533 1245.4,532 1245.6,532 1245.8,533 1246.0,533 1246.2,537 1246.4,534 1246.6,532 1246.8,530 1247.0,532 1247.2,532 1247.4,529 1247.6,531 1247.8,533 1248.0,531 1248.2,529 1248.4,532 1248.6,534 1248.8,531 1249.0,532 1249.2,533 1249.4,532 1249.6,530 1249.8,531 1250.0,531 1250.2,531 1250.4,533 1250.6,530 1250.8,532 1251.0,531 1251.2,529 1251.4,533 1251.6,532 1251.8,530 1252.0,530 1252.2,534 1252.4,535 1252.6,532 1252.8,534 1253.0,533 1253.2,531 1253.4,531 1253.6,533 1253.8,530 1254.0,534 1254.2,532 1254.4,534 1254.6,529 1254.8,533 1255.0,531 1255.1,532 1255.3,530 1255.5,529 1255.7,532 1255.9,531 1256.1,531 1256.3,531 1256.5,536 1256.7,528 1256.9,530 1257.1,531 1257.3,534 1257.5,534 1257.7,531 1257.9,530 1258.1,533 1258.3,534 1258.5,535 1258.7,532 1258.9,536 1259.1,535 1259.3,536 1259.5,535 1259.7,534 1259.9,533 1260.1,536 1260.3,530 1260.5,536 1260.7,535 1260.9,533 1261.1,535 1261.3,533 1261.5,531 1261.7,532 1261.9,534 1262.1,533 1262.3,531 1262.5,533 1262.7,533 1262.9,534 1263.1,533 1263.3,534 1263.5,538 1263.7,532 1263.9,530 1264.1,532 1264.3,533 1264.5,533 1264.7,531 1264.9,534 1265.1,530 1265.3,531 1265.5,528 1265.7,534 1265.9,534 1266.1,533 1266.3,533 1266.5,531 1266.7,532 1266.9,532 1267.1,534 1267.3,533 1267.5,534 1267.7,533 1267.9,533 1268.1,535 1268.3,535 1268.5,536 1268.7,534 1268.9,536 1269.1,533 1269.3,534 1269.5,541 1269.7,534 1269.9,534 1270.1,534 1270.3,538 1270.5,534 1270.7,535 1270.9,534 1271.1,538 1271.3,534 1271.5,535 1271.7,534 1271.9,533 1272.1,532 1272.3,530 1272.5,532 1272.7,534 1272.9,532 1273.1,534 1273.3,532 1273.5,532 1273.7,530 1273.9,530 1274.1,531 1274.3,532 1274.5,529 1274.7,529 1274.9,531 1275.1,531 1275.3,532 1275.5,534 1275.6,530 1275.8,533 1276.0,531 1276.2,530 1276.4,526 1276.6,530 1276.8,530 1277.0,528 1277.2,528 1277.4,527 1277.6,524 1277.8,526 1278.0,525 1278.2,526 1278.4,527 1278.6,527 1278.8,529 1279.0,530 1279.2,528 1279.4,530 1279.6,528 1279.8,529 1280.0,530 1280.2,528 1280.4,530 1280.6,529 1280.8,528 1281.0,529 1281.2,532 1281.4,530 1281.6,529 1281.8,530 1282.0,529 1282.2,530 1282.4,530 1282.6,528 1282.8,531 1283.0,532 1283.2,531 1283.4,531 1283.6,533 1283.8,530 1284.0,533 1284.2,533 1284.4,532 1284.6,534 1284.8,531 1285.0,532 1285.2,532 1285.4,531 1285.6,532 1285.8,533 1286.0,533 1286.2,533 1286.4,531 1286.6,532 1286.8,531 1287.0,531 1287.2,532 1287.4,529 1287.6,530 1287.8,531 1288.0,532 1288.2,535 1288.4,532 1288.6,535 1288.8,531 1289.0,534 1289.2,531 1289.4,531 1289.6,531 1289.8,532 1290.0,532 1290.2,532 1290.4,533 1290.6,533 1290.8,530 1291.0,534 1291.2,532 1291.4,532 1291.6,533 1291.8,531 1292.0,533 1292.2,530 1292.4,533 1292.6,531 1292.8,532 1293.0,530 1293.2,533 1293.4,531 1293.6,532 1293.8,529 1294.0,529 1294.2,531 1294.4,533 1294.6,531 1294.8,529 1295.0,533 1295.2,530 1295.4,532 1295.6,530 1295.8,530 1296.0,532 1296.1,529 1296.3,530 1296.5,531 1296.7,531 1296.9,530 1297.1,534 1297.3,532 1297.5,532 1297.7,530 1297.9,532 1298.1,533 1298.3,533 1298.5,533 1298.7,532 1298.9,532 1299.1,532 1299.3,533 1299.5,531 1299.7,532 1299.9,532 1300.1,532 1300.3,532 1300.5,532 1300.7,531 1300.9,534 1301.1,533 1301.3,531 1301.5,531 1301.7,532 1301.9,532 1302.1,531 1302.3,533 1302.5,532 1302.7,531 1302.9,534 1303.1,531 1303.3,532 1303.5,530 1303.7,530 1303.9,530 1304.1,535 1304.3,533 1304.5,532 1304.7,532 1304.9,533 1305.1,531 1305.3,532 1305.5,534 1305.7,531 1305.9,534 1306.1,533 1306.3,533 1306.5,533 1306.7,534 1306.9,535 1307.1,534 1307.3,531 1307.5,534 1307.7,536 1307.9,533 1308.1,532 1308.3,534 1308.5,536 1308.7,533 1308.9,535 1309.1,534 1309.3,535 1309.5,535 1309.7,535 1309.9,534 1310.1,535 1310.3,537 1310.5,535 1310.7,535 1310.9,533 1311.1,534 1311.3,532 1311.5,535 1311.7,536 1311.9,537 1312.1,535 1312.3,534 1312.5,534 1312.7,536 1312.9,534 1313.1,535 1313.3,536 1313.5,532 1313.7,532 1313.9,536 1314.1,535 1314.3,535 1314.5,535 1314.7,532 1314.9,535 1315.1,534 1315.3,534 1315.5,533 1315.7,532 1315.9,531 1316.1,530 1316.3,531 1316.5,531 1316.6,532 1316.8,531 1317.0,530 1317.2,532 1317.4,529 1317.6,532 1317.8,533 1318.0,530 1318.2,530 1318.4,532 1318.6,534 1318.8,532 1319.0,531 1319.2,532 1319.4,530 1319.6,530 1319.8,533 1320.0,534 1320.2,533 1320.4,533 1320.6,535 1320.8,531 1321.0,532 1321.2,533 1321.4,534 1321.6,533 1321.8,533 1322.0,531 1322.2,533 1322.4,533 1322.6,533 1322.8,532 1323.0,535 1323.2,530 1323.4,533 1323.6,530 1323.8,530 1324.0,533 1324.2,532 1324.4,531 1324.6,532 1324.8,536 1325.0,532 1325.2,532 1325.4,534 1325.6,532 1325.8,536 1326.0,531 1326.2,532 1326.4,534 1326.6,532 1326.8,532 1327.0,530 1327.2,532 1327.4,533 1327.6,531 1327.8,530 1328.0,533 1328.2,532 1328.4,532 1328.6,530 1328.8,530 1329.0,533 1329.2,531 1329.4,531 1329.6,531 1329.8,532 1330.0,533 1330.2,533 1330.4,532 1330.6,532 1330.8,533 1331.0,534 1331.2,535 1331.4,535 1331.6,534 1331.8,535 1332.0,536 1332.2,535 1332.4,535 1332.6,535 1332.8,535 1333.0,536 1333.2,537 1333.4,536 1333.6,536 1333.8,537 1334.0,537 1334.2,538 1334.4,534 1334.6,537 1334.8,535 1335.0,537 1335.2,537 1335.4,538 1335.6,535 1335.8,537 1336.0,532 1336.2,535 1336.4,532 1336.6,534 1336.8,533 1337.0,532 1337.2,534 1337.3,532 1337.5,532 1337.7,532 1337.9,532 1338.1,537 1338.3,532 1338.5,531 1338.7,530 1338.9,533 1339.1,533 1339.3,533 1339.5,531 1339.7,533 1339.9,532 1340.1,535 1340.3,531 1340.5,532 1340.7,533 1340.9,530 1341.1,530 1341.3,530 1341.5,530 1341.7,532 1341.9,532 1342.1,530 1342.3,535 1342.5,531 1342.7,534 1342.9,533 1343.1,534 1343.3,534 1343.5,535 1343.7,535 1343.9,536 1344.1,533 1344.3,532 1344.5,532 1344.7,531 1344.9,535 1345.1,532 1345.3,532 1345.5,535 1345.7,534 1345.9,534 1346.1,530 1346.3,532 1346.5,532 1346.7,534 1346.9,534 1347.1,534 1347.3,535 1347.5,538 1347.7,533 1347.9,534 1348.1,534 1348.3,533 1348.5,534 1348.7,534 1348.9,534 1349.1,534 1349.3,532 1349.5,530 1349.7,532 1349.9,535 1350.1,535 1350.3,532 1350.5,534 1350.7,536 1350.9,536 1351.1,533 1351.3,534 1351.5,534 1351.7,533 1351.9,537 1352.1,532 1352.3,535 1352.5,536 1352.7,535 1352.9,536 1353.1,531 1353.3,535 1353.5,535 1353.7,535 1353.9,533 1354.1,534 1354.3,533 1354.5,536 1354.7,533 1354.9,534 1355.1,534 1355.3,534 1355.5,536 1355.7,536 1355.9,534 1356.1,533 1356.3,532 1356.5,530 1356.7,532 1356.9,533 1357.1,532 1357.3,531 1357.5,533 1357.7,533 1357.8,532 1358.0,534 1358.2,532 1358.4,534 1358.6,531 1358.8,531 1359.0,529 1359.2,530 1359.4,527 1359.6,526 1359.8,523 1360.0,518 1360.2,518 1360.4,512 1360.6,506 1360.8,504 1361.0,501 1361.2,500 1361.4,504 1361.6,504 1361.8,506 1362.0,508 1362.2,511 1362.4,513 1362.6,515 1362.8,516 1363.0,518 1363.2,517 1363.4,520 1363.6,523 1363.8,524 1364.0,523 1364.2,522 1364.4,525 1364.6,522 1364.8,522 1365.0,520 1365.2,518 1365.4,521 1365.6,517 1365.8,513 1366.0,516 1366.2,516 1366.4,520 1366.6,519 1366.8,520 1367.0,523 1367.2,526 1367.4,523 1367.6,525 1367.8,525 1368.0,528 1368.2,528 1368.4,528 1368.6,528 1368.8,531 1369.0,529 1369.2,531 1369.4,532 1369.6,529 1369.8,530 1370.0,531 1370.2,529 1370.4,531 1370.6,531 1370.8,529 1371.0,531 1371.2,531 1371.4,530 1371.6,530 1371.8,529 1372.0,531 1372.2,531 1372.4,531 1372.6,533 1372.8,531 1373.0,531 1373.2,534 1373.4,532 1373.6,533 1373.8,533 1374.0,531 1374.2,530 1374.4,534 1374.6,529 1374.8,531 1375.0,534 1375.2,530 1375.4,532 1375.6,530 1375.8,535 1376.0,531 1376.2,533 1376.4,530 1376.6,533 1376.8,533 1377.0,531 1377.2,532 1377.4,531 1377.6,532 1377.8,530 1378.0,530 1378.2,529 1378.3,531 1378.5,530 1378.7,529 1378.9,532 1379.1,529 1379.3,529 1379.5,527 1379.7,529 1379.9,528 1380.1,526 1380.3,527 1380.5,528 1380.7,527 1380.9,529 1381.1,529 1381.3,530 1381.5,527 1381.7,528 1381.9,528 1382.1,528 1382.3,528 1382.5,528 1382.7,530 1382.9,527 1383.1,529 1383.3,530 1383.5,531 1383.7,530 1383.9,530 1384.1,530 1384.3,531 1384.5,530 1384.7,531 1384.9,532 1385.1,533 1385.3,529 1385.5,531 1385.7,530 1385.9,530 1386.1,529 1386.3,529 1386.5,530 1386.7,529 1386.9,529 1387.1,531 1387.3,529 1387.5,529 1387.7,529 1387.9,529 1388.1,529 1388.3,528 1388.5,530"/>
<polyline points="94.0,744 94.3,800 94.5,770 94.8,797 95.1,741 95.3,791 95.6,827 95.9,717 96.2,804 96.4,759 96.7,772 97.0,761 97.2,771 97.5,779 97.8,748 98.0,795 98.3,773 98.6,768 98.9,832 99.1,802 99.4,769 99.7,790 99.9,778 100.2,749 100.5,812 100.7,757 101.0,789 101.3,743 101.6,808 101.8,789 102.1,806 102.4,799 102.6,806 102.9,801 103.2,785 103.4,756 103.7,851 104.0,794 104.3,844 104.5,829 104.8,803 105.1,796 105.3,825 105.6,828 105.9,819 106.1,820 106.4,830 106.7,809 106.9,790 107.2,837 107.5,803 107.8,837 108.0,820 108.3,802 108.6,800 108.8,808 109.1,825 109.4,831 109.6,853 109.9,827 110.2,827 110.5,815 110.7,850 111.0,817 111.3,833 111.5,858 111.8,869 112.1,870 112.3,868 112.6,860 112.9,853 113.2,885 113.4,853 113.7,822 114.0,869 114.2,852 114.5,879 114.8,860 115.0,849 115.3,881 115.6,869 115.8,852 116.1,837 116.4,851 116.7,899 116.9,915 117.2,897 117.5,854 117.7,869 118.0,879 118.3,894 118.5,864 118.8,906 119.1,908 119.4,872 119.6,874 119.9,906 120.2,915 120.4,908 120.7,869 121.0,857 121.2,902 121.5,922 121.8,917 122.1,877 122.3,912 122.6,916 122.9,889 123.1,874 123.4,956 123.7,919 123.9,929 124.2,963 124.5,925 124.8,896 125.0,906 125.3,947 125.6,920 125.8,906 126.1,962 126.4,926 126.6,932 126.9,946 127.2,886 127.4,916 127.7,932 128.0,922 128.3,946 128.5,907 128.8,907 129.1,931 129.3,931 129.6,901 129.9,939 130.1,964 130.4,928 130.7,915 131.0,981 131.2,985 131.5,935 131.8,960 132.0,927 132.3,941 132.6,915 132.8,942 133.1,980 133.4,951 133.7,966 133.9,913 134.2,960 134.5,948 134.7,969 135.0,930 135.3,954 135.5,910 135.8,937 136.1,982 136.3,958 136.6,931 136.9,982 137.2,969 137.4,955 137.7,966 138.0,953 138.2,974 138.5,1002 138.8,918 139.0,969 139.3,904 139.6,962 139.9,944 140.1,978 140.4,970 140.7,987 140.9,971 141.2,990 141.5,934 141.7,936 142.0,926 142.3,957 142.6,952 142.8,1001 143.1,996 143.4,981 143.6,973 143.9,991 144.2,949 144.4,988 144.7,960 145.0,1011 145.3,977 145.5,976 145.8,962 146.1,991 146.3,1000 146.6,1008 146.9,970 147.1,987 147.4,970 147.7,988 147.9,983 148.2,968 148.5,969 148.8,1010 149.0,999 149.3,976 149.6,978 149.8,997 150.1,973 150.4,997 150.6,990 150.9,971 151.2,931 151.5,1012 151.7,1005 152.0,941 152.3,987 152.5,964 152.8,992 153.1,1027 153.3,1042 153.6,998 153.9,1002 154.2,973 154.4,1000 154.7,999 155.0,1006 155.2,982 155.5,970 155.8,1004 156.0,1003 156.3,980 156.6,976 156.9,935 157.1,949 157.4,980 157.7,988 157.9,951 158.2,974 158.5,968 158.7,969 159.0,1006 159.3,1005 159.5,938 159.8,1003 160.1,988 160.4,971 160.6,996 160.9,982 161.2,1005 161.4,983 161.7,963 162.0,957 162.2,1003 162.5,930 162.8,985 163.1,1033 163.3,991 163.6,986 163.9,960 164.1,933 164.4,966 164.7,1002 164.9,899 165.2,946 165.5,960 165.8,965 166.0,937 166.3,989 166.6,942 166.8,972 167.1,934 167.4,974 167.6,957 167.9,926 168.2,960 168.4,986 168.7,989 169.0,988 169.3,945 169.5,993 169.8,967 170.1,974 170.3,985 170.6,928 170.9,980 171.1,933 171.4,979 171.7,956 172.0,976 172.2,950 172.5,945 172.8,975 173.0,953 173.3,995 173.6,953 173.8,995 174.1,927 174.4,978 174.7,952 174.9,975 175.2,942 175.5,963 175.7,967 176.0,936 176.3,961 176.5,946 176.8,927 177.1,972 177.4,948 177.6,914 177.9,962 178.2,944 178.4,951 178.7,951 179.0,958 179.2,930 179.5,931 179.8,970 180.0,933 180.3,941 180.6,901 180.9,955 181.1,943 181.4,950 181.7,970 181.9,954 182.2,947 182.5,976 182.7,962 183.0,955 183.3,942 183.6,943 183.8,964 184.1,915 184.4,916 184.6,922 184.9,910 185.2,917 185.4,940 185.7,956 186.0,933 186.3,940 186.5,943 186.8,973 187.1,924 187.3,925 187.6,925 187.9,923 188.1,878 188.4,935 188.7,956 188.9,890 189.2,924 189.5,963 189.8,940 190.0,940 190.3,891 190.6,918 190.8,912 191.1,902 191.4,887 191.6,888 191.9,878 192.2,887 192.5,901 192.7,898 193.0,894 193.3,905 193.5,923 193.8,867 194.1,909 194.3,879 194.6,935 194.9,898 195.2,904 195.4,913 195.7,929 196.0,868 196.2,898 196.5,876 196.8,936 197.0,870 197.3,910 197.6,883 197.9,926 198.1,884 198.4,875 198.7,914 198.9,873 199.2,873 199.5,938 199.7,937 200.0,875 200.3,882 200.5,941 200.8,896 201.1,880 201.4,880 201.6,885 201.9,882 202.2,870 202.4,868 202.7,889 203.0,881 203.2,876 203.5,899 203.8,907 204.1,881 204.3,840 204.6,893 204.9,923 205.1,841 205.4,890 205.7,861 205.9,913 206.2,830 206.5,857 206.8,870 207.0,865 207.3,884 207.6,906 207.8,852 208.1,848 208.4,918 208.6,883 208.9,834 209.2,802 209.5,876 209.7,860 210.0,896 210.3,865 210.5,896 210.8,904 211.1,838 211.3,847 211.6,859 211.9,862 212.1,856 212.4,890 212.7,873 213.0,884 213.2,835 213.5,802 213.8,844 214.0,839 214.3,855 214.6,847 214.8,837 215.1,865 215.4,849 215.7,841 215.9,857 216.2,831 216.5,904 216.7,876 217.0,817 217.3,804 217.5,849 217.8,837 218.1,830 218.4,818 218.6,818 218.9,890 219.2,856 219.4,842 219.7,819 220.0,815 220.2,816 220.5,832 220.8,806 221.0,830 221.3,845 221.6,812 221.9,793 222.1,866 222.4,814 222.7,831 222.9,862 223.2,842 223.5,828 223.7,822 224.0,798 224.3,820 224.6,836 224.8,850 225.1,803 225.4,836 225.6,857 225.9,835 226.2,847 226.4,802 226.7,805 227.0,854 227.3,852 227.5,824 227.8,799 228.1,837 228.3,799 228.6,819 228.9,867 229.1,838 229.4,829 229.7,809 230.0,766 230.2,833 230.5,812 230.8,831 231.0,777 231.3,811 231.6,829 231.8,840 232.1,798 232.4,771 232.6,808 232.9,812 233.2,828 233.5,814 233.7,831 234.0,807 234.3,783 234.5,822 234.8,803 235.1,809 235.3,826 235.6,820 235.9,803 236.2,821 236.4,836 236.7,808 237.0,770 237.2,813 237.5,805 237.8,811 238.0,735 238.3,756 238.6,771 238.9,789 239.1,780 239.4,778 239.7,779 239.9,784 240.2,776 240.5,771 240.7,792 241.0,803 241.3,788 241.5,772 241.8,786 242.1,835 242.4,794 242.6,775 242.9,797 243.2,766 243.4,774 243.7,819 244.0,825 244.2,786 244.5,774 244.8,821 245.1,792 245.3,813 245.6,754 245.9,769 246.1,765 246.4,739 246.7,716 246.9,801 247.2,779 247.5,777 247.8,783 248.0,779 248.3,789 248.6,760 248.8,822 249.1,783 249.4,764 249.6,747 249.9,785 250.2,804 250.5,761 250.7,772 251.0,746 251.3,741 251.5,832 251.8,768 252.1,777 252.3,812 252.6,782 252.9,802 253.1,730 253.4,814 253.7,776 254.0,807 254.2,763 254.5,769 254.8,787 255.0,777 255.3,773 255.6,796 255.8,775 256.1,774 256.4,780 256.7,758 256.9,764 257.2,803 257.5,757 257.7,763 258.0,752 258.3,744 258.5,743 258.8,794 259.1,797 259.4,735 259.6,781 259.9,782 260.2,790 260.4,768 260.7,792 261.0,795 261.2,713 261.5,820 261.8,778 262.1,786 262.3,804 262.6,781 262.9,741 263.1,786 263.4,791 263.7,759 263.9,760 264.2,685 264.5,767 264.7,769 265.0,732 265.3,741 265.6,757 265.8,732 266.1,775 266.4,727 266.6,767 266.9,732 267.2,770 267.4,734 267.7,763 268.0,761 268.3,717 268.5,762 268.8,760 269.1,752 269.3,742 269.6,777 269.9,748 270.1,763 270.4,747 270.7,740 271.0,734 271.2,758 271.5,743 271.8,747 272.0,753 272.3,766 272.6,704 272.8,730 273.1,743 273.4,764 273.6,737 273.9,726 274.2,749 274.5,743 274.7,789 275.0,749 275.3,789 275.5,763 275.8,692 276.1,749 276.3,759 276.6,763 276.9,788 277.2,735 277.4,744 277.7,731 278.0,760 278.2,725 278.5,726 278.8,724 279.0,742 279.3,717 279.6,787 279.9,729 280.1,717 280.4,757 280.7,776 280.9,706 281.2,746 281.5,738 281.7,704 282.0,709 282.3,765 282.6,733 282.8,740 283.1,724 283.4,742 283.6,668 283.9,771 284.2,752 284.4,761 284.7,746 285.0,704 285.2,805 285.5,721 285.8,740 286.1,715 286.3,739 286.6,718 286.9,752 287.1,780 287.4,726 287.7,737 287.9,748 288.2,735 288.5,759 288.8,778 289.0,695 289.3,772 289.6,725 289.8,735 290.1,712 290.4,781 290.6,739 290.9,756 291.2,743 291.5,749 291.7,757 292.0,776 292.3,790 292.5,733 292.8,715 293.1,770 293.3,759 293.6,746 293.9,787 294.1,712 294.4,691 294.7,750 295.0,746 295.2,720 295.5,709 295.8,724 296.0,749 296.3,737 296.6,747 296.8,736 297.1,767 297.4,736 297.7,734 297.9,710 298.2,768 298.5,716 298.7,702 299.0,767 299.3,723 299.5,760 299.8,748 300.1,724 300.4,763 300.6,732 300.9,690 301.2,711 301.4,730 301.7,704 302.0,785 302.2,729 302.5,747 302.8,763 303.1,689 303.3,742 303.6,755 303.9,755 304.1,733 304.4,741 304.7,693 304.9,686 305.2,725 305.5,754 305.7,710 306.0,732 306.3,700 306.6,740 306.8,776 307.1,753 307.4,752 307.6,709 307.9,716 308.2,761 308.4,751 308.7,818 309.0,772 309.3,764 309.5,761 309.8,765 310.1,756 310.3,719 310.6,764 310.9,767 311.1,729 311.4,744 311.7,738 312.0,746 312.2,758 312.5,721 312.8,748 313.0,711 313.3,779 313.6,756 313.8,761 314.1,739 314.4,760 314.7,700 314.9,747 315.2,749 315.5,741 315.7,725 316.0,793 316.3,765 316.5,759 316.8,743 317.1,812 317.3,760 317.6,726 317.9,784 318.2,788 318.4,719 318.7,795 319.0,759 319.2,793 319.5,740 319.8,789 320.0,726 320.3,729 320.6,748 320.9,741 321.1,725 321.4,740 321.7,734 321.9,737 322.2,746 322.5,746 322.7,787 323.0,736 323.3,778 323.6,779 323.8,783 324.1,760 324.4,743 324.6,730 324.9,787 325.2,763 325.4,749 325.7,724 326.0,777 326.2,779 326.5,768 326.8,730 327.1,779 327.3,780 327.6,726 327.9,781 328.1,787 328.4,764 328.7,738 328.9,805 329.2,735 329.5,777 329.8,789 330.0,776 330.3,700 330.6,752 330.8,758 331.1,746 331.4,796 331.6,761 331.9,805 332.2,774 332.5,698 332.7,732 333.0,806 333.3,719 333.5,793 333.8,782 334.1,805 334.3,791 334.6,762 334.9,780 335.2,774 335.4,783 335.7,737 336.0,778 336.2,823 336.5,772 336.8,768 337.0,782 337.3,800 337.6,745 337.8,742 338.1,787 338.4,774 338.7,770 338.9,772 339.2,729 339.5,753 339.7,779 340.0,798 340.3,774 340.5,789 340.8,783 341.1,754 341.4,741 341.6,795 341.9,751 342.2,744 342.4,762 342.7,721 343.0,746 343.2,743 343.5,803 343.8,765 344.1,779 344.3,787 344.6,787 344.9,811 345.1,776 345.4,793 345.7,753 345.9,757 346.2,779 346.5,760 346.7,777 347.0,761 347.3,788 347.6,774 347.8,760 348.1,773 348.4,771 348.6,790 348.9,794 349.2,747 349.4,806 349.7,772 350.0,765 350.3,785 350.5,796 350.8,763 351.1,772 351.3,746 351.6,794 351.9,784 352.1,783 352.4,771 352.7,781 353.0,732 353.2,778 353.5,825 353.8,753 354.0,789 354.3,704 354.6,778 354.8,757 355.1,788 355.4,736 355.7,754 355.9,756 356.2,777 356.5,790 356.7,765 357.0,770 357.3,772 357.5,807 357.8,770 358.1,799 358.3,773 358.6,774 358.9,766 359.2,780 359.4,752 359.7,764 360.0,774 360.2,776 360.5,802 360.8,775 361.0,794 361.3,821 361.6,783 361.9,767 362.1,762 362.4,835 362.7,739 362.9,787 363.2,773 363.5,814 363.7,788 364.0,778 364.3,757 364.6,754 364.8,772 365.1,754 365.4,812 365.6,753 365.9,815 366.2,770 366.4,812 366.7,786 367.0,764 367.3,788 367.5,788 367.8,810 368.1,740 368.3,782 368.6,814 368.9,816 369.1,749 369.4,800 369.7,806 369.9,813 370.2,804 370.5,778 370.8,757 371.0,694 371.3,737 371.6,806 371.8,783 372.1,791 372.4,823 372.6,792 372.9,759 373.2,749 373.5,754 373.7,784 374.0,771 374.3,784 374.5,759 374.8,801 375.1,725 375.3,754 375.6,833 375.9,798 376.2,801 376.4,786 376.7,792 377.0,766 377.2,759 377.5,815 377.8,750 378.0,807 378.3,722 378.6,769 378.8,771 379.1,755 379.4,747 379.7,781 379.9,796 380.2,756 380.5,788 380.7,751 381.0,767 381.3,775 381.5,822 381.8,793 382.1,756 382.4,787 382.6,741 382.9,761 383.2,809 383.4,784 383.7,796 384.0,779 384.2,727 384.5,773 384.8,806 385.1,770 385.3,793 385.6,784 385.9,766 386.1,742 386.4,820 386.7,762 386.9,799 387.2,749 387.5,791 387.8,736 388.0,788 388.3,758 388.6,751 388.8,775 389.1,785 389.4,818 389.6,779 389.9,794 390.2,749 390.4,771 390.7,793 391.0,803 391.3,802 391.5,795 391.8,755 392.1,799 392.3,792 392.6,750 392.9,743 393.1,762 393.4,776 393.7,775 394.0,748 394.2,750 394.5,743 394.8,787 395.0,811 395.3,852 395.6,793 395.8,770 396.1,786 396.4,787 396.7,764 396.9,777 397.2,755 397.5,804 397.7,763 398.0,791 398.3,800 398.5,747 398.8,760 399.1,788 399.3,788 399.6,764 399.9,797 400.2,810 400.4,789 400.7,770 401.0,817 401.2,770 401.5,773 401.8,809 402.0,795 402.3,748 402.6,789 402.9,838 403.1,760 403.4,793 403.7,722 403.9,766 404.2,790 404.5,801 404.7,851 405.0,805 405.3,786 405.6,833 405.8,785 406.1,795 406.4,814 406.6,797 406.9,771 407.2,815 407.4,785 407.7,790 408.0,800 408.3,772 408.5,793 408.8,802 409.1,837 409.3,782 409.6,787 409.9,819 410.1,792 410.4,781 410.7,801 410.9,773 411.2,784 411.5,791 411.8,779 412.0,782 412.3,826 412.6,748 412.8,792 413.1,788 413.4,823 413.6,803 413.9,808 414.2,821 414.5,814 414.7,771 415.0,778 415.3,801 415.5,820 415.8,792 416.1,790 416.3,810 416.6,831 416.9,801 417.2,821 417.4,832 417.7,819 418.0,707 418.2,815 418.5,800 418.8,864 419.0,794 419.3,787 419.6,799 419.9,796 420.1,793 420.4,845 420.7,834 420.9,779 421.2,802 421.5,802 421.7,747 422.0,794 422.3,807 422.5,807 422.8,790 423.1,816 423.4,747 423.6,788 423.9,844 424.2,779 424.4,796 424.7,853 425.0,794 425.2,783 425.5,838 425.8,828 426.1,841 426.3,808 426.6,808 426.9,759 427.1,797 427.4,842 427.7,825 427.9,797 428.2,799 428.5,854 428.8,815 429.0,806 429.3,827 429.6,822 429.8,802 430.1,770 430.4,834 430.6,810 430.9,772 431.2,862 431.4,832 431.7,781 432.0,825 432.3,796 432.5,802 432.8,798 433.1,806 433.3,802 433.6,869 433.9,846 434.1,770 434.4,836 434.7,805 435.0,798 435.2,801 435.5,830 435.8,785 436.0,836 436.3,813 436.6,849 436.8,816 437.1,837 437.4,739 437.7,814 437.9,816 438.2,792 438.5,830 438.7,857 439.0,784 439.3,784 439.5,829 439.8,805 440.1,857 440.4,819 440.6,838 440.9,778 441.2,818 441.4,808 441.7,829 442.0,838 442.2,802 442.5,790 442.8,783 443.0,844 443.3,794 443.6,837 443.9,806 444.1,822 444.4,806 444.7,818 444.9,792 445.2,787 445.5,845 445.7,826 446.0,780 446.3,801 446.6,812 446.8,802 447.1,827 447.4,837 447.6,831 447.9,781 448.2,764 448.4,815 448.7,822 449.0,823 449.3,809 449.5,794 449.8,804 450.1,801 450.3,836 450.6,815 450.9,821 451.1,807 451.4,835 451.7,843 451.9,803 452.2,800 452.5,812 452.8,819 453.0,834 453.3,812 453.6,814 453.8,865 454.1,850 454.4,886 454.6,802 454.9,822 455.2,810 455.5,816 455.7,786 456.0,783 456.3,816 456.5,811 456.8,807 457.1,818 457.3,789 457.6,799 457.9,825 458.2,822 458.4,805 458.7,897 459.0,861 459.2,826 459.5,798 459.8,777 460.0,801 460.3,833 460.6,798 460.9,842 461.1,822 461.4,816 461.7,811 461.9,819 462.2,779 462.5,798 462.7,833 463.0,807 463.3,802 463.5,798 463.8,842 464.1,833 464.4,805 464.6,858 464.9,823 465.2,840 465.4,824 465.7,826 466.0,813 466.2,805 466.5,808 466.8,813 467.1,807 467.3,831 467.6,794 467.9,822 468.1,793 468.4,878 468.7,817 468.9,821 469.2,850 469.5,818 469.8,809 470.0,748 470.3,846 470.6,843 470.8,848 471.1,824 471.4,848 471.6,812 471.9,844 472.2,844 472.5,876 472.7,811 473.0,868 473.3,846 473.5,826 473.8,830 474.1,864 474.3,813 474.6,841 474.9,878 475.1,803 475.4,813 475.7,807 476.0,842 476.2,791 476.5,878 476.8,845 477.0,867 477.3,833 477.6,833 477.8,809 478.1,843 478.4,835 478.7,844 478.9,796 479.2,821 479.5,842 479.7,837 480.0,833 480.3,841 480.5,806 480.8,849 481.1,825 481.4,872 481.6,843 481.9,865 482.2,839 482.4,849 482.7,833 483.0,832 483.2,819 483.5,842 483.8,867 484.0,853 484.3,830 484.6,840 484.9,843 485.1,816 485.4,840 485.7,832 485.9,904 486.2,838 486.5,865 486.7,836 487.0,838 487.3,848 487.6,846 487.8,817 488.1,822 488.4,868 488.6,830 488.9,875 489.2,836 489.4,852 489.7,823 490.0,847 490.3,807 490.5,882 490.8,894 491.1,865 491.3,832 491.6,866 491.9,839 492.1,830 492.4,867 492.7,865 493.0,827 493.2,878 493.5,870 493.8,840 494.0,860 494.3,838 494.6,868 494.8,884 495.1,892 495.4,868 495.6,845 495.9,855 496.2,897 496.5,855 496.7,873 497.0,873 497.3,874 497.5,851 497.8,851 498.1,850 498.3,865 498.6,859 498.9,879 499.2,862 499.4,830 499.7,853 500.0,867 500.2,879 500.5,853 500.8,848 501.0,875 501.3,866 501.6,906 501.9,863 502.1,885 502.4,860 502.7,847 502.9,877 503.2,869 503.5,890 503.7,883 504.0,830 504.3,876 504.5,863 504.8,870 505.1,868 505.4,848 505.6,898 505.9,818 506.2,873 506.4,854 506.7,844 507.0,843 507.2,860 507.5,846 507.8,869 508.1,872 508.3,867 508.6,829 508.9,880 509.1,882 509.4,867 509.7,886 509.9,884 510.2,857 510.5,903 510.8,884 511.0,895 511.3,878 511.6,904 511.8,887 512.1,874 512.4,849 512.6,872 512.9,861 513.2,861 513.5,897 513.7,911 514.0,899 514.3,907 514.5,867 514.8,906 515.1,865 515.3,861 515.6,877 515.9,876 516.1,894 516.4,897 516.7,890 517.0,903 517.2,875 517.5,869 517.8,899 518.0,919 518.3,905 518.6,882 518.8,909 519.1,891 519.4,891 519.7,892 519.9,890 520.2,924 520.5,915 520.7,914 521.0,873 521.3,934 521.5,878 521.8,915 522.1,827 522.4,903 522.6,917 522.9,900 523.2,883 523.4,872 523.7,908 524.0,921 524.2,922 524.5,897 524.8,933 525.1,922 525.3,930 525.6,915 525.9,930 526.1,908 526.4,912 526.7,889 526.9,866 527.2,906 527.5,903 527.7,888 528.0,898 528.3,898 528.6,920 528.8,900 529.1,910 529.4,963 529.6,882 529.9,905 530.2,951 530.4,894 530.7,923 531.0,896 531.3,906 531.5,916 531.8,924 532.1,927 532.3,900 532.6,908 532.9,915 533.1,927 533.4,896 533.7,911 534.0,901 534.2,931 534.5,944 534.8,864 535.0,907 535.3,926 535.6,912 535.8,878 536.1,939 536.4,941 536.6,924 536.9,905 537.2,919 537.5,912 537.7,916 538.0,934 538.3,945 538.5,936 538.8,917 539.1,912 539.3,938 539.6,898 539.9,906 540.2,933 540.4,911 540.7,928 541.0,921 541.2,935 541.5,945 541.8,927 542.0,925 542.3,945 542.6,952 542.9,941 543.1,922 543.4,957 543.7,914 543.9,923 544.2,927 544.5,950 544.7,914 545.0,919 545.3,949 545.6,980 545.8,927 546.1,918 546.4,911 546.6,956 546.9,929 547.2,966 547.4,920 547.7,926 548.0,937 548.2,925 548.5,931 548.8,952 549.1,926 549.3,912 549.6,925 549.9,953 550.1,940 550.4,955 550.7,937 550.9,941 551.2,940 551.5,941 551.8,935 552.0,898 552.3,964 552.6,973 552.8,945 553.1,956 553.4,932 553.6,942 553.9,971 554.2,923 554.5,971 554.7,965 555.0,909 555.3,948 555.5,967 555.8,941 556.1,956 556.3,917 556.6,961 556.9,955 557.1,971 557.4,926 557.7,950 558.0,958 558.2,942 558.5,951 558.8,975 559.0,950 559.3,927 559.6,952 559.8,942 560.1,939 560.4,971 560.7,950 560.9,934 561.2,928 561.5,951 561.7,974 562.0,961 562.3,965 562.5,930 562.8,970 563.1,945 563.4,977 563.6,980 563.9,955 564.2,929 564.4,976 564.7,962 565.0,956 565.2,944 565.5,945 565.8,964 566.1,959 566.3,980 566.6,922 566.9,961 567.1,992 567.4,976 567.7,940 567.9,976 568.2,953 568.5,952 568.7,952 569.0,944 569.3,962 569.6,973 569.8,959 570.1,952 570.4,970 570.6,949 570.9,964 571.2,961 571.4,987 571.7,969 572.0,1024 572.3,971 572.5,994 572.8,971 573.1,971 573.3,935 573.6,985 573.9,958 574.1,969 574.4,977 574.7,991 575.0,938 575.2,977 575.5,978 575.8,959 576.0,969 576.3,974 576.6,985 576.8,959 577.1,965 577.4,994 577.7,975 577.9,954 578.2,1005 578.5,986 578.7,980 579.0,968 579.3,1004 579.5,960 579.8,974 580.1,998 580.3,978 580.6,973 580.9,995 581.2,990 581.4,981 581.7,965 582.0,984 582.2,973 582.5,997 582.8,976 583.0,1009 583.3,1026 583.6,1023 583.9,987 584.1,979 584.4,968 584.7,975 584.9,983 585.2,941 585.5,973 585.7,966 586.0,966 586.3,979 586.6,1028 586.8,975 587.1,1034 587.4,976 587.6,974 587.9,997 588.2,994 588.4,1019 588.7,991 589.0,999 589.2,984 589.5,969 589.8,995 590.1,1025 590.3,1005 590.6,992 590.9,987 591.1,980 591.4,1031 591.7,995 591.9,990 592.2,972 592.5,980 592.8,987 593.0,1006 593.3,1003 593.6,944 593.8,982 594.1,1015 594.4,1016 594.6,1028 594.9,1018 595.2,1007 595.5,992 595.7,1004 596.0,1007 596.3,1000 596.5,1001 596.8,1000 597.1,1004 597.3,1005 597.6,1005 597.9,992 598.2,993 598.4,1012 598.7,981 599.0,995 599.2,1008 599.5,1033 599.8,992 600.0,970 600.3,988 600.6,1026 600.8,991 601.1,1025 601.4,965 601.7,976 601.9,994 602.2,1008 602.5,1029 602.7,977 603.0,1003 603.3,1019 603.5,1021 603.8,1006 604.1,1012 604.4,998 604.6,1019 604.9,1024 605.2,1005 605.4,1030 605.7,1007 606.0,994 606.2,1019 606.5,1029 606.8,1006 607.1,1015 607.3,1001 607.6,1019 607.9,995 608.1,993 608.4,1040 608.7,1021 608.9,990 609.2,1006 609.5,996 609.7,1025 610.0,1002 610.3,992 610.6,1006 610.8,974 611.1,1006 611.4,984 611.6,998 611.9,1027 612.2,1039 612.4,1029 612.7,1030 613.0,973 613.3,1001 613.5,1030 613.8,1032 614.1,1011 614.3,1004 614.6,1032 614.9,999 615.1,1009 615.4,998 615.7,982 616.0,1022 616.2,1039 616.5,1031 616.8,1007 617.0,1033 617.3,1003 617.6,969 617.8,1013 618.1,1032 618.4,993 618.7,1017 618.9,1025 619.2,1029 619.5,1052 619.7,1008 620.0,1010 620.3,1029 620.5,1045 620.8,1029 621.1,1018 621.3,1022 621.6,1055 621.9,1042 622.2,1039 622.4,1032 622.7,1048 623.0,1041 623.2,1035 623.5,1023 623.8,1026 624.0,1036 624.3,1000 624.6,1017 624.9,1011 625.1,1039 625.4,1060 625.7,1048 625.9,1035 626.2,1008 626.5,1067 626.7,1043 627.0,1054 627.3,1039 627.6,1046 627.8,1056 628.1,1026 628.4,1047 628.6,995 628.9,1052 629.2,1047 629.4,1036 629.7,1052 630.0,1090 630.3,1045 630.5,1038 630.8,1023 631.1,1038 631.3,1026 631.6,1055 631.9,1032 632.1,1042 632.4,1046 632.7,1043 632.9,1039 633.2,1041 633.5,1030 633.8,1046 634.0,1043 634.3,1034 634.6,1029 634.8,1072 635.1,1036 635.4,1068 635.6,1058 635.9,1026 636.2,1044 636.5,1033 636.7,1038 637.0,1043 637.3,1070 637.5,1033 637.8,1063 638.1,1025 638.3,1043 638.6,1049 638.9,1043 639.2,1007 639.4,1035 639.7,1017 640.0,1044 640.2,1041 640.5,1028 640.8,1060 641.0,1056 641.3,1033 641.6,1089 641.8,1043 642.1,1061 642.4,1037 642.7,1015 642.9,1063 643.2,1052 643.5,1008 643.7,1044 644.0,1040 644.3,1054 644.5,1047 644.8,1047 645.1,1067 645.4,1030 645.6,1036 645.9,1037 646.2,1046 646.4,1038 646.7,1037 647.0,1028 647.2,1028 647.5,1047 647.8,1032 648.1,1042 648.3,1060 648.6,1052 648.9,1063 649.1,1012 649.4,1032 649.7,1038 649.9,1046 650.2,1045 650.5,1033 650.8,1054 651.0,1049 651.3,1024 651.6,1051 651.8,1024 652.1,1075 652.4,1040 652.6,1044 652.9,1060 653.2,1029 653.4,1016 653.7,1036 654.0,1069 654.3,1057 654.5,1025 654.8,1033 655.1,1066 655.3,1077 655.6,1025 655.9,1040 656.1,1044 656.4,1013 656.7,982 657.0,1059 657.2,1049 657.5,1032 657.8,1043 658.0,1054 658.3,1037 658.6,1039 658.8,1041 659.1,1063 659.4,1068 659.7,1057 659.9,1045 660.2,1052 660.5,1052 660.7,1031 661.0,1067 661.3,1034 661.5,1048 661.8,1029 662.1,1036 662.3,1061 662.6,1036 662.9,1021 663.2,1008 663.4,1029 663.7,1035 664.0,1045 664.2,1025 664.5,1043 664.8,1031 665.0,1051 665.3,1045 665.6,1033 665.9,1032 666.1,1042 666.4,1048 666.7,1034 666.9,1056 667.2,1036 667.5,1026 667.7,1055 668.0,1023 668.3,1070 668.6,1040 668.8,1043 669.1,1075 669.4,1028 669.6,1065 669.9,1049 670.2,1050 670.4,1067 670.7,1074 671.0,1055 671.3,1054 671.5,1043 671.8,1028 672.1,1025 672.3,1063 672.6,1047 672.9,1032 673.1,1042 673.4,1054 673.7,1042 673.9,1052 674.2,1058 674.5,1067 674.8,1028 675.0,1041 675.3,1049 675.6,1048 675.8,1057 676.1,1018 676.4,1029 676.6,1064 676.9,1077 677.2,1046 677.5,1027 677.7,1020 678.0,1058 678.3,1077 678.5,1063 678.8,1039 679.1,1055 679.3,1019 679.6,1033 679.9,1042 680.2,1034 680.4,1021 680.7,1066 681.0,1057 681.2,1023 681.5,1087 681.8,1076 682.0,1049 682.3,1050 682.6,1019 682.9,1068 683.1,1042 683.4,1065 683.7,1054 683.9,1045 684.2,1041 684.5,1022 684.7,1050 685.0,1047 685.3,1037 685.5,1007 685.8,1026 686.1,1051 686.4,1057 686.6,1080 686.9,1028 687.2,1035 687.4,1051 687.7,1042 688.0,1027 688.2,1059 688.5,1060 688.8,1038 689.1,1037 689.3,1074 689.6,1042 689.9,1023 690.1,1051 690.4,1012 690.7,1047 690.9,1042 691.2,1043 691.5,1041 691.8,1071 692.0,1033 692.3,1036 692.6,1047 692.8,1047 693.1,1047 693.4,1051 693.6,1042 693.9,1029 694.2,1040 694.4,1065 694.7,1052 695.0,1060 695.3,1030 695.5,1072 695.8,1064 696.1,1036 696.3,1032 696.6,1041 696.9,1075 697.1,1071 697.4,1008 697.7,1068 698.0,1071 698.2,1036 698.5,1057 698.8,1042 699.0,1053 699.3,1059 699.6,1037 699.8,1014 700.1,1063 700.4,1051 700.7,1016 700.9,1065 701.2,1064 701.5,1023 701.7,1052 702.0,1035 702.3,1045 702.5,1065 702.8,1051 703.1,1050 703.4,1039 703.6,1057 703.9,1057 704.2,1065 704.4,1069 704.7,1035 705.0,1050 705.2,1016 705.5,1065 705.8,1022 706.0,1052 706.3,1017 706.6,1048 706.9,1012 707.1,1049 707.4,1051 707.7,1031 707.9,1064 708.2,1056 708.5,1024 708.7,1028 709.0,1067 709.3,1019 709.6,1065 709.8,1051 710.1,1021 710.4,1024 710.6,1049 710.9,1045 711.2,1039 711.4,1060 711.7,1057 712.0,1025 712.3,1025 712.5,1027 712.8,1029 713.1,1029 713.3,1051 713.6,1004 713.9,1063 714.1,1052 714.4,1031 714.7,1055 714.9,1049 715.2,1033 715.5,1065 715.8,1038 716.0,1038 716.3,1050 716.6,1028 716.8,1062 717.1,1063 717.4,1024 717.6,1055 717.9,1064 718.2,1041 718.5,1063 718.7,1066 719.0,1045 719.3,1061 719.5,1062 719.8,1038 720.1,1034 720.3,1073 720.6,1028 720.9,1065 721.2,1037 721.4,1051 721.7,1041 722.0,1030 722.2,1050 722.5,1050 722.8,1029 723.0,1047 723.3,1032 723.6,1044 723.9,1022 724.1,1025 724.4,1066 724.7,1058 724.9,1037 725.2,1045 725.5,1042 725.7,1040 726.0,1065 726.3,1045 726.5,1030 726.8,1014 727.1,1014 727.4,1066 727.6,1047 727.9,1055 728.2,1049 728.4,1029 728.7,1030 729.0,1035 729.2,1003 729.5,1009 729.8,1029 730.1,1022 730.3,1032 730.6,1045 730.9,1070 731.1,1060 731.4,1024 731.7,1021 731.9,1045 732.2,1034 732.5,1041 732.8,1039 733.0,1047 733.3,1005 733.6,1040 733.8,1009 734.1,1053 734.4,1030 734.6,1025 734.9,1048 735.2,1050 735.5,1038 735.7,1053 736.0,1018 736.3,1044 736.5,1046 736.8,1033 737.1,1051 737.3,1050 737.6,1066 737.9,1031 738.1,1021 738.4,1027 738.7,1044 739.0,1043 739.2,1040 739.5,1020 739.8,1035 740.0,1056 740.3,1050 740.6,1023 740.8,1044 741.1,1028 741.4,1039 741.7,1026 741.9,1028 742.2,1026 742.5,1031 742.7,1021 743.0,1051 743.3,1033 743.5,1047 743.8,1037 744.1,1034 744.4,1013 744.6,1015 744.9,1031 745.2,1015 745.4,1046 745.7,1028 746.0,1019 746.2,1031 746.5,1041 746.8,1031 747.0,1067 747.3,1054 747.6,1035 747.9,1024 748.1,1012 748.4,1043 748.7,1052 748.9,1033 749.2,1023 749.5,1033 749.7,1023 750.0,1033 750.3,1044 750.6,1031 750.8,1043 751.1,1050 751.4,1017 751.6,1018 751.9,1036 752.2,988 752.4,1051 752.7,1028 753.0,1036 753.3,1046 753.5,1004 753.8,1053 754.1,1044 754.3,994 754.6,1016 754.9,1070 755.1,1045 755.4,1053 755.7,1033 756.0,1052 756.2,1006 756.5,1020 756.8,1063 757.0,1050 757.3,1030 757.6,1044 757.8,1022 758.1,1011 758.4,1048 758.6,1028 758.9,1037 759.2,1043 759.5,1040 759.7,1053 760.0,1025 760.3,1026 760.5,1046 760.8,1052 761.1,1014 761.3,1007 761.6,1021 761.9,1035 762.2,1037 762.4,1015 762.7,1037 763.0,1059 763.2,995 763.5,1037 763.8,1035 764.0,1026 764.3,1041 764.6,1046 764.9,1011 765.1,1034 765.4,1043 765.7,1030 765.9,1039 766.2,1042 766.5,1053 766.7,1043 767.0,1044 767.3,1054 767.6,1035 767.8,1060 768.1,1011 768.4,1037 768.6,1036 768.9,1036 769.2,1021 769.4,1038 769.7,1016 770.0,1024 770.2,1016 770.5,1044 770.8,1033 771.1,1014 771.3,1004 771.6,1027 771.9,1032 772.1,1063 772.4,1047 772.7,1005 772.9,1050 773.2,1041 773.5,1067 773.8,1051 774.0,1053 774.3,1022 774.6,1015 774.8,1038 775.1,1040 775.4,1048 775.6,996 775.9,1022 776.2,1006 776.5,1046 776.7,1039 777.0,1046 777.3,1030 777.5,995 777.8,1032 778.1,1036 778.3,1021 778.6,1036 778.9,1027 779.1,1039 779.4,1015 779.7,1005 780.0,1044 780.2,1075 780.5,1006 780.8,1013 781.0,1034 781.3,1022 781.6,1046 781.8,1027 782.1,1041 782.4,1013 782.7,1018 782.9,1031 783.2,1019 783.5,995 783.7,1042 784.0,1060 784.3,1015 784.5,1002 784.8,1056 785.1,1028 785.4,1045 785.6,1029 785.9,1049 786.2,1015 786.4,1061 786.7,1011 787.0,1041 787.2,1042 787.5,1006 787.8,1038 788.1,1019 788.3,1035 788.6,1038 788.9,993 789.1,1041 789.4,1006 789.7,1040 789.9,1047 790.2,1012 790.5,996 790.7,974 791.0,1043 791.3,1014 791.6,1020 791.8,1030 792.1,1047 792.4,1010 792.6,1018 792.9,1018 793.2,1004 793.4,1015 793.7,1027 794.0,1030 794.3,1051 794.5,1038 794.8,1013 795.1,1021 795.3,1018 795.6,971 795.9,1037 796.1,1035 796.4,1019 796.7,1052 797.0,1015 797.2,1009 797.5,1007 797.8,1031 798.0,1045 798.3,1043 798.6,999 798.8,1033 799.1,988 799.4,1023 799.6,990 799.9,1027 800.2,1032 800.5,1051 800.7,1016 801.0,1036 801.3,1020 801.5,1023 801.8,998 802.1,993 802.3,1055 802.6,1006 802.9,1018 803.2,1023 803.4,1015 803.7,1029 804.0,1038 804.2,1033 804.5,1043 804.8,1080 805.0,1026 805.3,1038 805.6,1033 805.9,1017 806.1,1038 806.4,1014 806.7,1001 806.9,1032 807.2,1047 807.5,1002 807.7,1036 808.0,1034 808.3,1010 808.6,1008 808.8,974 809.1,1015 809.4,1035 809.6,1041 809.9,1061 810.2,1029 810.4,1014 810.7,1041 811.0,1040 811.2,982 811.5,1026 811.8,1012 812.1,1056 812.3,1028 812.6,1036 812.9,1011 813.1,1019 813.4,987 813.7,1016 813.9,1055 814.2,1029 814.5,1010 814.8,1005 815.0,1035 815.3,1025 815.6,1017 815.8,1011 816.1,1035 816.4,990 816.6,1009 816.9,1012 817.2,1010 817.5,1036 817.7,1036 818.0,1008 818.3,1031 818.5,1013 818.8,1006 819.1,1008 819.3,1009 819.6,1025 819.9,1016 820.2,1000 820.4,988 820.7,1023 821.0,1035 821.2,1005 821.5,1028 821.8,1039 822.0,1010 822.3,1037 822.6,1011 822.8,1014 823.1,1000 823.4,1006 823.7,1011 823.9,1054 824.2,1005 824.5,1021 824.7,1016 825.0,1011 825.3,1008 825.5,1012 825.8,1002 826.1,995 826.4,1007 826.6,1038 826.9,1017 827.2,1006 827.4,1039 827.7,1018 828.0,1017 828.2,1007 828.5,1033 828.8,1010 829.1,998 829.3,979 829.6,997 829.9,1018 830.1,1008 830.4,1001 830.7,1018 830.9,971 831.2,997 831.5,1012 831.7,1016 832.0,999 832.3,1021 832.6,1054 832.8,1011 833.1,1035 833.4,1019 833.6,1007 833.9,1024 834.2,1027 834.4,1037 834.7,1038 835.0,1040 835.3,1010 835.5,1006 835.8,1034 836.1,988 836.3,1028 836.6,1027 836.9,1023 837.1,987 837.4,1000 837.7,984 838.0,1032 838.2,1002 838.5,1010 838.8,1025 839.0,1032 839.3,1001 839.6,1008 839.8,1014 840.1,1029 840.4,1026 840.7,1044 840.9,1007 841.2,998 841.5,997 841.7,1022 842.0,1018 842.3,1030 842.5,1001 842.8,987 843.1,1000 843.3,1005 843.6,1032 843.9,1010 844.2,1025 844.4,1020 844.7,1013 845.0,1014 845.2,994 845.5,1026 845.8,1040 846.0,1020 846.3,997 846.6,1007 846.9,997 847.1,1020 847.4,1003 847.7,1020 847.9,1034 848.2,1006 848.5,966 848.7,1034 849.0,1015 849.3,1017 849.6,1063 849.8,999 850.1,1017 850.4,999 850.6,1022 850.9,1042 851.2,1007 851.4,1022 851.7,1007 852.0,1002 852.2,1035 852.5,1006 852.8,1001 853.1,1025 853.3,1028 853.6,1026 853.9,994 854.1,991 854.4,1025 854.7,1044 854.9,997 855.2,1019 855.5,1013 855.8,1020 856.0,1043 856.3,1009 856.6,1021 856.8,1020 857.1,1008 857.4,1028 857.6,1029 857.9,1017 858.2,1032 858.5,1003 858.7,1012 859.0,1003 859.3,1023 859.5,1017 859.8,1031 860.1,1034 860.3,1028 860.6,1025 860.9,1025 861.2,1044 861.4,988 861.7,1028 862.0,1017 862.2,994 862.5,1008 862.8,1000 863.0,1020 863.3,1024 863.6,1019 863.8,998 864.1,1004 864.4,1015 864.7,1004 864.9,999 865.2,988 865.5,1012 865.7,1030 866.0,1010 866.3,1019 866.5,993 866.8,1005 867.1,1042 867.4,993 867.6,1055 867.9,1008 868.2,988 868.4,1015 868.7,1017 869.0,1026 869.2,1033 869.5,1010 869.8,1025 870.1,969 870.3,1032 870.6,1045 870.9,1031 871.1,1019 871.4,1022 871.7,1030 871.9,995 872.2,1031 872.5,1015 872.8,1007 873.0,1035 873.3,1035 873.6,998 873.8,1011 874.1,1007 874.4,985 874.6,1030 874.9,1019 875.2,989 875.4,1030 875.7,1042 876.0,1008 876.3,1012 876.5,1020 876.8,1043 877.1,1003 877.3,1028 877.6,1036 877.9,1019 878.1,1017 878.4,1006 878.7,1008 879.0,1015 879.2,999 879.5,1024 879.8,1058 880.0,1032 880.3,1006 880.6,1016 880.8,1011 881.1,992 881.4,1055 881.7,977 881.9,1010 882.2,1014 882.5,1003 882.7,1036 883.0,1005 883.3,1000 883.5,1023 883.8,1018 884.1,983 884.3,1008 884.6,1013 884.9,1058 885.2,1020 885.4,1065 885.7,1005 886.0,1005 886.2,1029 886.5,1045 886.8,987 887.0,1023 887.3,998 887.6,1027 887.9,1003 888.1,1026 888.4,1019 888.7,1003 888.9,1046 889.2,1033 889.5,1007 889.7,999 890.0,1010 890.3,1003 890.6,1011 890.8,1043 891.1,995 891.4,1028 891.6,1038 891.9,1010 892.2,1033 892.4,1038 892.7,1063 893.0,1011 893.3,1026 893.5,1012 893.8,1000 894.1,1035 894.3,1045 894.6,1003 894.9,1009 895.1,988 895.4,1022 895.7,1036 895.9,1010 896.2,1025 896.5,1013 896.8,1005 897.0,1012 897.3,1043 897.6,1046 897.8,1019 898.1,1010 898.4,990 898.6,1036 898.9,1038 899.2,1006 899.5,1026 899.7,1026 900.0,1027 900.3,1053 900.5,1016 900.8,1040 901.1,1045 901.3,1039 901.6,1024 901.9,1032 902.2,1023 902.4,1048 902.7,1052 903.0,1008 903.2,1031 903.5,1021 903.8,1012 904.0,1006 904.3,1069 904.6,1033 904.8,1015 905.1,1036 905.4,1018 905.7,1041 905.9,1022 906.2,996 906.5,1035 906.7,1033 907.0,991 907.3,1034 907.5,1030 907.8,1027 908.1,1020 908.4,1054 908.6,1029 908.9,987 909.2,1023 909.4,1029 909.7,1024 910.0,1037 910.2,1018 910.5,1013 910.8,998 911.1,1029 911.3,1041 911.6,1021 911.9,1010 912.1,1013 912.4,1023 912.7,997 912.9,1021 913.2,985 913.5,1007 913.8,1038 914.0,1034 914.3,1020 914.6,1030 914.8,1028 915.1,995 915.4,1012 915.6,1051 915.9,1018 916.2,1027 916.4,1012 916.7,1015 917.0,1023 917.3,1015 917.5,1016 917.8,1058 918.1,1008 918.3,1080 918.6,1047 918.9,975 919.1,1017 919.4,1056 919.7,1025 920.0,1006 920.2,1025 920.5,1032 920.8,1014 921.0,994 921.3,1034 921.6,1015 921.8,1045 922.1,1037 922.4,1025 922.7,998 922.9,1027 923.2,1021 923.5,1063 923.7,1010 924.0,1018 924.3,1008 924.5,1019 924.8,1015 925.1,1044 925.4,1052 925.6,1018 925.9,1023 926.2,1030 926.4,976 926.7,1033 927.0,1003 927.2,1004 927.5,1027 927.8,993 928.0,1016 928.3,1020 928.6,1025 928.9,1047 929.1,1008 929.4,1026 929.7,1032 929.9,1024 930.2,1021 930.5,1004 930.7,971 931.0,1008 931.3,1031 931.6,1004 931.8,1025 932.1,1058 932.4,1036 932.6,1023 932.9,1030 933.2,1013 933.4,1042 933.7,1022 934.0,1022 934.3,981 934.5,1009 934.8,1006 935.1,1017 935.3,992 935.6,1041 935.9,1044 936.1,1027 936.4,1044 936.7,1021 936.9,1011 937.2,996 937.5,1032 937.8,1022 938.0,1034 938.3,1019 938.6,1005 938.8,1005 939.1,1023 939.4,1030 939.6,1026 939.9,1017 940.2,1045 940.5,1023 940.7,1012 941.0,1011 941.3,1014 941.5,1025 941.8,1020 942.1,1026 942.3,1013 942.6,1032 942.9,1035 943.2,1037 943.4,1033 943.7,1009 944.0,1023 944.2,1008 944.5,1035 944.8,1026 945.0,1022 945.3,1019 945.6,1002 945.9,1025 946.1,1070 946.4,1028 946.7,1006 946.9,1032 947.2,1017 947.5,1021 947.7,1019 948.0,1015 948.3,1039 948.5,1002 948.8,1015 949.1,1037 949.4,1043 949.6,1028 949.9,1050 950.2,1057 950.4,983 950.7,996 951.0,1019 951.2,997 951.5,1037 951.8,1025 952.1,1010 952.3,1025 952.6,1033 952.9,1044 953.1,997 953.4,1046 953.7,1012 953.9,1009 954.2,1034 954.5,1025 954.8,1002 955.0,1018 955.3,1008 955.6,1033 955.8,1060 956.1,1006 956.4,1050 956.6,1020 956.9,1004 957.2,1057 957.4,1026 957.7,1028 958.0,1011 958.3,1044 958.5,1016 958.8,1023 959.1,1032 959.3,1047 959.6,1035 959.9,1029 960.1,1022 960.4,1010 960.7,1041 961.0,1048 961.2,1034 961.5,1038 961.8,1022 962.0,1026 962.3,1003 962.6,1046 962.8,1061 963.1,1003 963.4,1003 963.7,1031 963.9,1039 964.2,1006 964.5,1028 964.7,1026 965.0,1014 965.3,1020 965.5,1025 965.8,1018 966.1,1043 966.4,1036 966.6,992 966.9,1038 967.2,1003 967.4,993 967.7,1042 968.0,1019 968.2,1025 968.5,1031 968.8,1003 969.0,1056 969.3,1006 969.6,1067 969.9,1031 970.1,1032 970.4,1024 970.7,1022 970.9,1007 971.2,1020 971.5,1013 971.7,1029 972.0,1008 972.3,1035 972.6,1009 972.8,1017 973.1,1040 973.4,1022 973.6,1041 973.9,1026 974.2,999 974.4,1004 974.7,1006 975.0,989 975.3,1024 975.5,1041 975.8,1042 976.1,1000 976.3,1017 976.6,1015 976.9,992 977.1,987 977.4,1020 977.7,1027 978.0,1017 978.2,997 978.5,1048 978.8,1026 979.0,1024 979.3,1008 979.6,1007 979.8,1060 980.1,1060 980.4,1037 980.6,1010 980.9,990 981.2,1020 981.5,1010 981.7,1023 982.0,1036 982.3,1007 982.5,1023 982.8,1020 983.1,1021 983.3,990 983.6,1005 983.9,1017 984.2,1011 984.4,1034 984.7,1042 985.0,1020 985.2,1062 985.5,1039 985.8,1039 986.0,1018 986.3,1019 986.6,1030 986.9,1002 987.1,1026 987.4,1002 987.7,1016 987.9,1046 988.2,1023 988.5,1020 988.7,1036 989.0,999 989.3,1031 989.5,1023 989.8,1019 990.1,1026 990.4,1028 990.6,1029 990.9,989 991.2,1010 991.4,1037 991.7,1002 992.0,1046 992.2,1020 992.5,1003 992.8,1079 993.1,1036 993.3,1040 993.6,1011 993.9,1028 994.1,1000 994.4,1025 994.7,1026 994.9,1042 995.2,1027 995.5,1041 995.8,1038 996.0,1062 996.3,1039 996.6,1017 996.8,1036 997.1,1003 997.4,1021 997.6,1035 997.9,1035 998.2,1024 998.5,1008 998.7,1027 999.0,991 999.3,1043 999.5,1037 999.8,1003 1000.1,1027 1000.3,1026 1000.6,1019 1000.9,1041 1001.1,1025 1001.4,993 1001.7,987 1002.0,1052 1002.2,1026 1002.5,1006 1002.8,1002 1003.0,1057 1003.3,1038 1003.6,994 1003.8,1014 1004.1,1018 1004.4,1035 1004.7,1014 1004.9,1033 1005.2,1022 1005.5,1002 1005.7,1029 1006.0,1028 1006.3,1016 1006.5,1001 1006.8,1017 1007.1,994 1007.4,1005 1007.6,1023 1007.9,1009 1008.2,1025 1008.4,1007 1008.7,1050 1009.0,1038 1009.2,1028 1009.5,1022 1009.8,1005 1010.0,1020 1010.3,1029 1010.6,991 1010.9,1041 1011.1,1026 1011.4,1011 1011.7,1032 1011.9,1044 1012.2,1021 1012.5,1034 1012.7,1035 1013.0,1021 1013.3,1017 1013.6,1039 1013.8,1047 1014.1,1025 1014.4,1014 1014.6,1046 1014.9,1017 1015.2,1021 1015.4,1030 1015.7,1041 1016.0,1024 1016.3,1001 1016.5,1017 1016.8,974 1017.1,1039 1017.3,1041 1017.6,1021 1017.9,1023 1018.1,1041 1018.4,1016 1018.7,1050 1019.0,1005 1019.2,1054 1019.5,1008 1019.8,1029 1020.0,1022 1020.3,1007 1020.6,1046 1020.8,1035 1021.1,1036 1021.4,1055 1021.6,1049 1021.9,1040 1022.2,1037 1022.5,1042 1022.7,1034 1023.0,1020 1023.3,1041 1023.5,1003 1023.8,1009 1024.1,1030 1024.3,1027 1024.6,1039 1024.9,1018 1025.2,1030 1025.4,1023 1025.7,1061 1026.0,1018 1026.2,1040 1026.5,1029 1026.8,1052 1027.0,1028 1027.3,1019 1027.6,1014 1027.9,1007 1028.1,992 1028.4,1041 1028.7,997 1028.9,1008 1029.2,1026 1029.5,1007 1029.7,1027 1030.0,1023 1030.3,993 1030.6,1042 1030.8,1029 1031.1,1027 1031.4,995 1031.6,1030 1031.9,1027 1032.2,1046 1032.4,1042 1032.7,1058 1033.0,1011 1033.2,1053 1033.5,1052 1033.8,1020 1034.1,1028 1034.3,1024 1034.6,1029 1034.9,1034 1035.1,1041 1035.4,1030 1035.7,1005 1035.9,1042 1036.2,1025 1036.5,1038 1036.8,1045 1037.0,1006 1037.3,1006 1037.6,1031 1037.8,1029 1038.1,1039 1038.4,1013 1038.6,1046 1038.9,1040 1039.2,1007 1039.5,1073 1039.7,1029 1040.0,1042 1040.3,1049 1040.5,1029 1040.8,1015 1041.1,1032 1041.3,1017 1041.6,1026 1041.9,1039 1042.1,1023 1042.4,1045 1042.7,1043 1043.0,1044 1043.2,1057 1043.5,1061 1043.8,1040 1044.0,1034 1044.3,1047 1044.6,1051 1044.8,1008 1045.1,1048 1045.4,1037 1045.7,1044 1045.9,1072 1046.2,1076 1046.5,1013 1046.7,1048 1047.0,1052 1047.3,1020 1047.5,1040 1047.8,1056 1048.1,1040 1048.4,1052 1048.6,1014 1048.9,1042 1049.2,1024 1049.4,1062 1049.7,1009 1050.0,1027 1050.2,1020 1050.5,1013 1050.8,1065 1051.1,1052 1051.3,1036 1051.6,1027 1051.9,1030 1052.1,1024 1052.4,1047 1052.7,1046 1052.9,1055 1053.2,1042 1053.5,1041 1053.7,1011 1054.0,1055 1054.3,1046 1054.6,1051 1054.8,1069 1055.1,1030 1055.4,997 1055.6,1036 1055.9,1057 1056.2,1045 1056.4,1047 1056.7,1030 1057.0,1046 1057.3,1036 1057.5,1072 1057.8,1042 1058.1,1005 1058.3,1015 1058.6,1030 1058.9,1040 1059.1,1063 1059.4,1056 1059.7,1027 1060.0,1041 1060.2,1045 1060.5,1007 1060.8,1082 1061.0,1027 1061.3,1056 1061.6,1050 1061.8,1005 1062.1,1065 1062.4,1063 1062.6,1041 1062.9,1074 1063.2,1049 1063.5,1054 1063.7,1061 1064.0,1009 1064.3,1059 1064.5,1045 1064.8,1046 1065.1,1015 1065.3,1061 1065.6,1048 1065.9,1029 1066.2,1041 1066.4,1064 1066.7,1054 1067.0,1031 1067.2,1035 1067.5,1082 1067.8,1017 1068.0,1043 1068.3,1055 1068.6,1063 1068.9,1025 1069.1,1062 1069.4,1048 1069.7,1042 1069.9,1075 1070.2,1071 1070.5,1056 1070.7,1052 1071.0,1025 1071.3,1029 1071.6,1031 1071.8,1066 1072.1,1016 1072.4,1045 1072.6,1014 1072.9,1029 1073.2,1013 1073.4,1027 1073.7,1065 1074.0,1050 1074.2,1055 1074.5,1041 1074.8,1036 1075.1,1046 1075.3,1057 1075.6,1022 1075.9,1055 1076.1,1043 1076.4,1066 1076.7,1047 1076.9,1043 1077.2,1042 1077.5,1026 1077.8,1052 1078.0,1026 1078.3,1052 1078.6,1055 1078.8,1045 1079.1,1063 1079.4,1042 1079.6,1041 1079.9,1018 1080.2,1038 1080.5,1047 1080.7,1078 1081.0,1020 1081.3,1055 1081.5,1037 1081.8,1052 1082.1,1077 1082.3,1035 1082.6,1068 1082.9,1020 1083.2,1038 1083.4,1050 1083.7,1026 1084.0,1032 1084.2,1031 1084.5,1088 1084.8,1051 1085.0,1047 1085.3,1054 1085.6,1020 1085.8,1053 1086.1,1047 1086.4,1049 1086.7,1045 1086.9,1044 1087.2,1045 1087.5,1038 1087.7,1041 1088.0,1022 1088.3,1041 1088.5,1029 1088.8,1039 1089.1,1020 1089.4,1054 1089.6,1056 1089.9,1033 1090.2,1020 1090.4,1063 1090.7,1055 1091.0,1054 1091.2,1058 1091.5,1051 1091.8,1041 1092.1,1067 1092.3,1023 1092.6,1078 1092.9,1048 1093.1,1047 1093.4,1026 1093.7,1048 1093.9,1038 1094.2,1049 1094.5,1072 1094.7,1067 1095.0,1048 1095.3,1045 1095.6,1038 1095.8,1070 1096.1,1030 1096.4,1048 1096.6,1011 1096.9,1023 1097.2,1057 1097.4,1044 1097.7,1050 1098.0,1049 1098.3,1074 1098.5,1030 1098.8,1095 1099.1,1044 1099.3,1061 1099.6,1059 1099.9,1087 1100.1,1044 1100.4,1052 1100.7,1041 1101.0,1063 1101.2,1062 1101.5,1029 1101.8,1017 1102.0,1044 1102.3,1062 1102.6,1037 1102.8,1029 1103.1,1048 1103.4,1042 1103.7,1066 1103.9,1055 1104.2,1052 1104.5,1042 1104.7,1043 1105.0,1060 1105.3,1065 1105.5,1072 1105.8,1061 1106.1,1071 1106.3,1027 1106.6,1060 1106.9,1051 1107.2,1045 1107.4,1081 1107.7,1060 1108.0,1045 1108.2,1077 1108.5,1054 1108.8,1042 1109.0,1066 1109.3,1065 1109.6,1043 1109.9,1077 1110.1,1086 1110.4,1075 1110.7,1049 1110.9,1080 1111.2,1079 1111.5,1062 1111.7,1078 1112.0,1049 1112.3,1057 1112.6,1062 1112.8,1057 1113.1,1049 1113.4,1032 1113.6,1077 1113.9,1036 1114.2,1062 1114.4,1078 1114.7,1054 1115.0,1075 1115.2,1095 1115.5,1075 1115.8,1083 1116.1,1078 1116.3,1080 1116.6,1062 1116.9,1077 1117.1,1061 1117.4,1037 1117.7,1092 1117.9,1073 1118.2,1069 1118.5,1061 1118.8,1070 1119.0,1022 1119.3,1049 1119.6,1077 1119.8,1055 1120.1,1056 1120.4,1062 1120.6,1046 1120.9,1046 1121.2,1078 1121.5,1091 1121.7,1069 1122.0,1067 1122.3,1058 1122.5,1066 1122.8,1098 1123.1,1067 1123.3,1080 1123.6,1059 1123.9,1088 1124.2,1071 1124.4,1074 1124.7,1015 1125.0,1055 1125.2,1052 1125.5,1080 1125.8,1082 1126.0,1075 1126.3,1057 1126.6,1076 1126.8,1090 1127.1,1081 1127.4,1051 1127.7,1071 1127.9,1069 1128.2,1079 1128.5,1079 1128.7,1057 1129.0,1064 1129.3,1054 1129.5,1062 1129.8,1081 1130.1,1064 1130.4,1072 1130.6,1063 1130.9,1071 1131.2,1051 1131.4,1080 1131.7,1069 1132.0,1082 1132.2,1075 1132.5,1061 1132.8,1091 1133.1,1093 1133.3,1081 1133.6,1080 1133.9,1081 1134.1,1069 1134.4,1069 1134.7,1088 1134.9,1071 1135.2,1075 1135.5,1061 1135.8,1115 1136.0,1089 1136.3,1071 1136.6,1109 1136.8,1069 1137.1,1088 1137.4,1055 1137.6,1084 1137.9,1096 1138.2,1053 1138.4,1075 1138.7,1049 1139.0,1077 1139.3,1061 1139.5,1078 1139.8,1073 1140.1,1090 1140.3,1056 1140.6,1089 1140.9,1068 1141.1,1091 1141.4,1068 1141.7,1097 1142.0,1094 1142.2,1100 1142.5,1073 1142.8,1095 1143.0,1060 1143.3,1085 1143.6,1092 1143.8,1088 1144.1,1099 1144.4,1068 1144.7,1092 1144.9,1076 1145.2,1059 1145.5,1083 1145.7,1063 1146.0,1082 1146.3,1060 1146.5,1067 1146.8,1086 1147.1,1090 1147.3,1064 1147.6,1086 1147.9,1064 1148.2,1089 1148.4,1086 1148.7,1087 1149.0,1072 1149.2,1091 1149.5,1084 1149.8,1068 1150.0,1085 1150.3,1079 1150.6,1101 1150.9,1072 1151.1,1089 1151.4,1099 1151.7,1084 1151.9,1076 1152.2,1072 1152.5,1064 1152.7,1096 1153.0,1120 1153.3,1092 1153.6,1084 1153.8,1090 1154.1,1066 1154.4,1075 1154.6,1098 1154.9,1090 1155.2,1099 1155.4,1074 1155.7,1108 1156.0,1083 1156.3,1092 1156.5,1080 1156.8,1104 1157.1,1091 1157.3,1086 1157.6,1076 1157.9,1077 1158.1,1086 1158.4,1120 1158.7,1076 1158.9,1107 1159.2,1070 1159.5,1124 1159.8,1078 1160.0,1103 1160.3,1080 1160.6,1086 1160.8,1090 1161.1,1078 1161.4,1076 1161.6,1081 1161.9,1097 1162.2,1077 1162.5,1106 1162.7,1090 1163.0,1063 1163.3,1117 1163.5,1098 1163.8,1093 1164.1,1063 1164.3,1078 1164.6,1069 1164.9,1076 1165.2,1094 1165.4,1100 1165.7,1114 1166.0,1093 1166.2,1092 1166.5,1092 1166.8,1105 1167.0,1114 1167.3,1078 1167.6,1077 1167.8,1074 1168.1,1096 1168.4,1118 1168.7,1100 1168.9,1106 1169.2,1087 1169.5,1101 1169.7,1089 1170.0,1101 1170.3,1092 1170.5,1099 1170.8,1115 1171.1,1083 1171.4,1102 1171.6,1095 1171.9,1080 1172.2,1111 1172.4,1115 1172.7,1104 1173.0,1098 1173.2,1101 1173.5,1108 1173.8,1121 1174.1,1093 1174.3,1111 1174.6,1103 1174.9,1087 1175.1,1105 1175.4,1095 1175.7,1107 1175.9,1095 1176.2,1091 1176.5,1091 1176.8,1097 1177.0,1110 1177.3,1104 1177.6,1103 1177.8,1091 1178.1,1088 1178.4,1111 1178.6,1100 1178.9,1098 1179.2,1085 1179.4,1126 1179.7,1101 1180.0,1098 1180.3,1116 1180.5,1096 1180.8,1107 1181.1,1115 1181.3,1103 1181.6,1109 1181.9,1104 1182.1,1096 1182.4,1111 1182.7,1116 1183.0,1115 1183.2,1095 1183.5,1117 1183.8,1089 1184.0,1091 1184.3,1084 1184.6,1103 1184.8,1103 1185.1,1089 1185.4,1098 1185.7,1099 1185.9,1119 1186.2,1110 1186.5,1096 1186.7,1086 1187.0,1087 1187.3,1130 1187.5,1105 1187.8,1117 1188.1,1112 1188.4,1114 1188.6,1103 1188.9,1093 1189.2,1089 1189.4,1118 1189.7,1082 1190.0,1090 1190.2,1115 1190.5,1099 1190.8,1113 1191.0,1105 1191.3,1116 1191.6,1109 1191.9,1088 1192.1,1123 1192.4,1098 1192.7,1114 1192.9,1109 1193.2,1111 1193.5,1077 1193.7,1102 1194.0,1133 1194.3,1122 1194.6,1098 1194.8,1128 1195.1,1123 1195.4,1115 1195.6,1106 1195.9,1114 1196.2,1106 1196.4,1127 1196.7,1110 1197.0,1117 1197.3,1101 1197.5,1135 1197.8,1127 1198.1,1102 1198.3,1140 1198.6,1105 1198.9,1089 1199.1,1095 1199.4,1115 1199.7,1115 1199.9,1105 1200.2,1113 1200.5,1099 1200.8,1109 1201.0,1109 1201.3,1110 1201.6,1096 1201.8,1100 1202.1,1107 1202.4,1094 1202.6,1105 1202.9,1128 1203.2,1131 1203.5,1107 1203.7,1114 1204.0,1130 1204.3,1124 1204.5,1114 1204.8,1109 1205.1,1143 1205.3,1123 1205.6,1096 1205.9,1091 1206.2,1122 1206.4,1110 1206.7,1134 1207.0,1092 1207.2,1096 1207.5,1116 1207.8,1100 1208.0,1131 1208.3,1123 1208.6,1133 1208.9,1079 1209.1,1092 1209.4,1126 1209.7,1098 1209.9,1130 1210.2,1102 1210.5,1146 1210.7,1112 1211.0,1115 1211.3,1129 1211.5,1123 1211.8,1115 1212.1,1160 1212.4,1111 1212.6,1099 1212.9,1133 1213.2,1121 1213.4,1110 1213.7,1111 1214.0,1122 1214.2,1134 1214.5,1130 1214.8,1095 1215.1,1117 1215.3,1114 1215.6,1128 1215.9,1104 1216.1,1117 1216.4,1125 1216.7,1119 1216.9,1124 1217.2,1143 1217.5,1133 1217.8,1100 1218.0,1138 1218.3,1134 1218.6,1106 1218.8,1119 1219.1,1115 1219.4,1132 1219.6,1110 1219.9,1119 1220.2,1133 1220.4,1113 1220.7,1115 1221.0,1136 1221.3,1113 1221.5,1161 1221.8,1117 1222.1,1097 1222.3,1135 1222.6,1123 1222.9,1128 1223.1,1133 1223.4,1149 1223.7,1138 1224.0,1113 1224.2,1138 1224.5,1126 1224.8,1107 1225.0,1115 1225.3,1149 1225.6,1114 1225.8,1136 1226.1,1121 1226.4,1131 1226.7,1109 1226.9,1120 1227.2,1100 1227.5,1148 1227.7,1128 1228.0,1107 1228.3,1121 1228.5,1133 1228.8,1121 1229.1,1107 1229.4,1105 1229.6,1131 1229.9,1134 1230.2,1091 1230.4,1115 1230.7,1116 1231.0,1124 1231.2,1134 1231.5,1140 1231.8,1118 1232.0,1112 1232.3,1114 1232.6,1144 1232.9,1123 1233.1,1137 1233.4,1131 1233.7,1154 1233.9,1105 1234.2,1120 1234.5,1119 1234.7,1144 1235.0,1123 1235.3,1135 1235.6,1095 1235.8,1122 1236.1,1139 1236.4,1140 1236.6,1121 1236.9,1114 1237.2,1120 1237.4,1125 1237.7,1149 1238.0,1120 1238.3,1134 1238.5,1143 1238.8,1124 1239.1,1113 1239.3,1121 1239.6,1130 1239.9,1131 1240.1,1123 1240.4,1140 1240.7,1111 1241.0,1122 1241.2,1126 1241.5,1128 1241.8,1115 1242.0,1130 1242.3,1126 1242.6,1122 1242.8,1130 1243.1,1136 1243.4,1138 1243.6,1125 1243.9,1135 1244.2,1162 1244.5,1140 1244.7,1149 1245.0,1123 1245.3,1143 1245.5,1140 1245.8,1118 1246.1,1129 1246.3,1127 1246.6,1125 1246.9,1119 1247.2,1138 1247.4,1130 1247.7,1141 1248.0,1109 1248.2,1139 1248.5,1122 1248.8,1143 1249.0,1132 1249.3,1130 1249.6,1116 1249.9,1127 1250.1,1103 1250.4,1126 1250.7,1128 1250.9,1124 1251.2,1131 1251.5,1129 1251.7,1140 1252.0,1133 1252.3,1149 1252.5,1123 1252.8,1136 1253.1,1141 1253.4,1131 1253.6,1134 1253.9,1150 1254.2,1136 1254.4,1131 1254.7,1140 1255.0,1116 1255.2,1130 1255.5,1121 1255.8,1140 1256.1,1125 1256.3,1139 1256.6,1128 1256.9,1137 1257.1,1144 1257.4,1109 1257.7,1146 1257.9,1116 1258.2,1134 1258.5,1142 1258.8,1139 1259.0,1162 1259.3,1123 1259.6,1134 1259.8,1128 1260.1,1113 1260.4,1136 1260.6,1104 1260.9,1140 1261.2,1119 1261.5,1145 1261.7,1117 1262.0,1136 1262.3,1141 1262.5,1158 1262.8,1132 1263.1,1107 1263.3,1150 1263.6,1156 1263.9,1118 1264.1,1143 1264.4,1128 1264.7,1116 1265.0,1144 1265.2,1141 1265.5,1154 1265.8,1129 1266.0,1119 1266.3,1125 1266.6,1105 1266.8,1131 1267.1,1126 1267.4,1139 1267.7,1146 1267.9,1141 1268.2,1141 1268.5,1147 1268.7,1163 1269.0,1142 1269.3,1118 1269.5,1128 1269.8,1136 1270.1,1122 1270.4,1107 1270.6,1113 1270.9,1138 1271.2,1135 1271.4,1124 1271.7,1148 1272.0,1106 1272.2,1134 1272.5,1138 1272.8,1148 1273.0,1146 1273.3,1130 1273.6,1111 1273.9,1116 1274.1,1139 1274.4,1131 1274.7,1131 1274.9,1150 1275.2,1122 1275.5,1140 1275.7,1118 1276.0,1145 1276.3,1166 1276.6,1166 1276.8,1150 1277.1,1138 1277.4,1132 1277.6,1133 1277.9,1138 1278.2,1161 1278.4,1115 1278.7,1127 1279.0,1114 1279.3,1129 1279.5,1124 1279.8,1133 1280.1,1118 1280.3,1129 1280.6,1124 1280.9,1115 1281.1,1133 1281.4,1151 1281.7,1111 1282.0,1099 1282.2,1135 1282.5,1127 1282.8,1130 1283.0,1133 1283.3,1120 1283.6,1121 1283.8,1132 1284.1,1111 1284.4,1119 1284.6,1124 1284.9,1136 1285.2,1150 1285.5,1128 1285.7,1122 1286.0,1137 1286.3,1115 1286.5,1119 1286.8,1126 1287.1,1130 1287.3,1129 1287.6,1107 1287.9,1133 1288.2,1135 1288.4,1121 1288.7,1149 1289.0,1123 1289.2,1131 1289.5,1130 1289.8,1135 1290.0,1118 1290.3,1132 1290.6,1121 1290.9,1118 1291.1,1146 1291.4,1113 1291.7,1126 1291.9,1109 1292.2,1121 1292.5,1119 1292.7,1149 1293.0,1121 1293.3,1113 1293.6,1100 1293.8,1127 1294.1,1125 1294.4,1132 1294.6,1122 1294.9,1122 1295.2,1120 1295.4,1102 1295.7,1154 1296.0,1126 1296.2,1133 1296.5,1138 1296.8,1148 1297.1,1128 1297.3,1095 1297.6,1146 1297.9,1125 1298.1,1118 1298.4,1138 1298.7,1108 1298.9,1126 1299.2,1127 1299.5,1137 1299.8,1121 1300.0,1114 1300.3,1116 1300.6,1130 1300.8,1114 1301.1,1131 1301.4,1145 1301.6,1126 1301.9,1121 1302.2,1113 1302.5,1148 1302.7,1165 1303.0,1141 1303.3,1155 1303.5,1116 1303.8,1128 1304.1,1120 1304.3,1147 1304.6,1108 1304.9,1136 1305.1,1111 1305.4,1123 1305.7,1131 1306.0,1125 1306.2,1129 1306.5,1132 1306.8,1142 1307.0,1124 1307.3,1135 1307.6,1124 1307.8,1148 1308.1,1126 1308.4,1126 1308.7,1127 1308.9,1133 1309.2,1141 1309.5,1133 1309.7,1129 1310.0,1116 1310.3,1128 1310.5,1148 1310.8,1129 1311.1,1145 1311.4,1121 1311.6,1141 1311.9,1149 1312.2,1127 1312.4,1112 1312.7,1129 1313.0,1126 1313.2,1104 1313.5,1124 1313.8,1119 1314.1,1144 1314.3,1125 1314.6,1142 1314.9,1122 1315.1,1130 1315.4,1098 1315.7,1114 1315.9,1135 1316.2,1111 1316.5,1158 1316.7,1107 1317.0,1132 1317.3,1120 1317.6,1116 1317.8,1107 1318.1,1113 1318.4,1111 1318.6,1136 1318.9,1126 1319.2,1115 1319.4,1122 1319.7,1110 1320.0,1119 1320.3,1130 1320.5,1110 1320.8,1117 1321.1,1115 1321.3,1123 1321.6,1151 1321.9,1137 1322.1,1136 1322.4,1114 1322.7,1123 1323.0,1128 1323.2,1118 1323.5,1131 1323.8,1137 1324.0,1099 1324.3,1133 1324.6,1121 1324.8,1128 1325.1,1107 1325.4,1130 1325.6,1133 1325.9,1107 1326.2,1129 1326.5,1115 1326.7,1119 1327.0,1109 1327.3,1114 1327.5,1129 1327.8,1113 1328.1,1124 1328.3,1121 1328.6,1117 1328.9,1119 1329.2,1141 1329.4,1125 1329.7,1158 1330.0,1153 1330.2,1112 1330.5,1121 1330.8,1128 1331.0,1125 1331.3,1124 1331.6,1106 1331.9,1130 1332.1,1109 1332.4,1121 1332.7,1122 1332.9,1104 1333.2,1136 1333.5,1167 1333.7,1121 1334.0,1123 1334.3,1127 1334.6,1129 1334.8,1117 1335.1,1116 1335.4,1114 1335.6,1132 1335.9,1138 1336.2,1116 1336.4,1120 1336.7,1132 1337.0,1140 1337.2,1101 1337.5,1129 1337.8,1119 1338.1,1100 1338.3,1141 1338.6,1107 1338.9,1144 1339.1,1138 1339.4,1118 1339.7,1128 1339.9,1132 1340.2,1126 1340.5,1122 1340.8,1140 1341.0,1131 1341.3,1119 1341.6,1107 1341.8,1133 1342.1,1132 1342.4,1120 1342.6,1139 1342.9,1135 1343.2,1144 1343.5,1118 1343.7,1118 1344.0,1108 1344.3,1098 1344.5,1136 1344.8,1114 1345.1,1094 1345.3,1119 1345.6,1123 1345.9,1115 1346.2,1125 1346.4,1138 1346.7,1117 1347.0,1118 1347.2,1134 1347.5,1132 1347.8,1116 1348.0,1122 1348.3,1128 1348.6,1147 1348.8,1121 1349.1,1124 1349.4,1132 1349.7,1135 1349.9,1122 1350.2,1147 1350.5,1117 1350.7,1122 1351.0,1108 1351.3,1106 1351.5,1119 1351.8,1129 1352.1,1142 1352.4,1106 1352.6,1116 1352.9,1133 1353.2,1133 1353.4,1123 1353.7,1124 1354.0,1127 1354.2,1114 1354.5,1140 1354.8,1126 1355.1,1115 1355.3,1131 1355.6,1129 1355.9,1108 1356.1,1112 1356.4,1124 1356.7,1134 1356.9,1129 1357.2,1114 1357.5,1123 1357.7,1142 1358.0,1100 1358.3,1145 1358.6,1104 1358.8,1124 1359.1,1119 1359.4,1088 1359.6,1154 1359.9,1123 1360.2,1144 1360.4,1104 1360.7,1111 1361.0,1119 1361.3,1112 1361.5,1127 1361.8,1134 1362.1,1111 1362.3,1107 1362.6,1117 1362.9,1131 1363.1,1126 1363.4,1125 1363.7,1108 1364.0,1124 1364.2,1110 1364.5,1114 1364.8,1129 1365.0,1099 1365.3,1118 1365.6,1108 1365.8,1120 1366.1,1108 1366.4,1095 1366.7,1113 1366.9,1124 1367.2,1112 1367.5,1126 1367.7,1140 1368.0,1100 1368.3,1116 1368.5,1126 1368.8,1131 1369.1,1129 1369.3,1125 1369.6,1110 1369.9,1103 1370.2,1109 1370.4,1098 1370.7,1122 1371.0,1124 1371.2,1122 1371.5,1125 1371.8,1120 1372.0,1104 1372.3,1115 1372.6,1128 1372.9,1122 1373.1,1115 1373.4,1119 1373.7,1124 1373.9,1121 1374.2,1099 1374.5,1129 1374.7,1108 1375.0,1131 1375.3,1127 1375.6,1102 1375.8,1120 1376.1,1131 1376.4,1125 1376.6,1128 1376.9,1115 1377.2,1104 1377.4,1140 1377.7,1125 1378.0,1104 1378.2,1100 1378.5,1132 1378.8,1112 1379.1,1106 1379.3,1116 1379.6,1119 1379.9,1089 1380.1,1093 1380.4,1098 1380.7,1110 1380.9,1122 1381.2,1138 1381.5,1110 1381.8,1098 1382.0,1103 1382.3,1114 1382.6,1109 1382.8,1140 1383.1,1118 1383.4,1099 1383.6,1124 1383.9,1093 1384.2,1124 1384.5,1116 1384.7,1119 1385.0,1093 1385.3,1116 1385.5,1117 1385.8,1117 1386.1,1104 1386.3,1117 1386.6,1118 1386.9,1093 1387.2,1098 1387.4,1108 1387.7,1117 1388.0,1107 1388.2,1120 1388.5,1110"/>
</g>
<g stroke="#000" stroke-width="3.5" fill="none" shape-rendering="crispEdges">
<line x1="91" y1="17.5" x2="1391" y2="17.5"/>
<line x1="93" y1="16" x2="93" y2="1254.5" stroke-width="4"/>
<line x1="1389.5" y1="16" x2="1389.5" y2="1254.5" stroke-width="3"/>
<line x1="91" y1="627.5" x2="1391" y2="627.5" stroke-width="3"/>
<line x1="91" y1="1237.5" x2="1391" y2="1237.5" stroke-width="3"/>
</g>
<g stroke="#000" stroke-width="3" shape-rendering="crispEdges">
<line x1="93.0" y1="1237" x2="93.0" y2="1254.5"/><line x1="139.3" y1="1237" x2="139.3" y2="1246.0"/><line x1="185.6" y1="1237" x2="185.6" y2="1254.5"/><line x1="231.9" y1="1237" x2="231.9" y2="1246.0"/><line x1="278.2" y1="1237" x2="278.2" y2="1254.5"/><line x1="324.5" y1="1237" x2="324.5" y2="1246.0"/><line x1="370.8" y1="1237" x2="370.8" y2="1254.5"/><line x1="417.1" y1="1237" x2="417.1" y2="1246.0"/><line x1="463.4" y1="1237" x2="463.4" y2="1254.5"/><line x1="509.7" y1="1237" x2="509.7" y2="1246.0"/><line x1="556.0" y1="1237" x2="556.0" y2="1254.5"/><line x1="602.3" y1="1237" x2="602.3" y2="1246.0"/><line x1="648.6" y1="1237" x2="648.6" y2="1254.5"/><line x1="694.9" y1="1237" x2="694.9" y2="1246.0"/><line x1="741.2" y1="1237" x2="741.2" y2="1254.5"/><line x1="787.6" y1="1237" x2="787.6" y2="1246.0"/><line x1="833.9" y1="1237" x2="833.9" y2="1254.5"/><line x1="880.2" y1="1237" x2="880.2" y2="1246.0"/><line x1="926.5" y1="1237" x2="926.5" y2="1254.5"/><line x1="972.8" y1="1237" x2="972.8" y2="1246.0"/><line x1="1019.1" y1="1237" x2="1019.1" y2="1254.5"/><line x1="1065.4" y1="1237" x2="1065.4" y2="1246.0"/><line x1="1111.7" y1="1237" x2="1111.7" y2="1254.5"/><line x1="1158.0" y1="1237" x2="1158.0" y2="1246.0"/><line x1="1204.3" y1="1237" x2="1204.3" y2="1254.5"/><line x1="1250.6" y1="1237" x2="1250.6" y2="1246.0"/><line x1="1296.9" y1="1237" x2="1296.9" y2="1254.5"/><line x1="1343.2" y1="1237" x2="1343.2" y2="1246.0"/><line x1="1389.5" y1="1237" x2="1389.5" y2="1254.5"/>
</g>
<g class="tk">
<text transform="translate(93.0,1300) scale(1,1.07)" text-anchor="middle">10</text><text transform="translate(185.6,1300) scale(1,1.07)" text-anchor="middle">15</text><text transform="translate(278.2,1300) scale(1,1.07)" text-anchor="middle">20</text><text transform="translate(370.8,1300) scale(1,1.07)" text-anchor="middle">25</text><text transform="translate(463.4,1300) scale(1,1.07)" text-anchor="middle">30</text><text transform="translate(556.0,1300) scale(1,1.07)" text-anchor="middle">35</text><text transform="translate(648.6,1300) scale(1,1.07)" text-anchor="middle">40</text><text transform="translate(741.2,1300) scale(1,1.07)" text-anchor="middle">45</text><text transform="translate(833.9,1300) scale(1,1.07)" text-anchor="middle">50</text><text transform="translate(926.5,1300) scale(1,1.07)" text-anchor="middle">55</text><text transform="translate(1019.1,1300) scale(1,1.07)" text-anchor="middle">60</text><text transform="translate(1111.7,1300) scale(1,1.07)" text-anchor="middle">65</text><text transform="translate(1204.3,1300) scale(1,1.07)" text-anchor="middle">70</text><text transform="translate(1296.9,1300) scale(1,1.07)" text-anchor="middle">75</text><text transform="translate(1389.5,1300) scale(1,1.07)" text-anchor="middle">80</text>
</g>
<text transform="translate(0.00,98.50)" x="1276.90 1297.50 1315.90" y="-4.8 0 -4.8" text-anchor="middle" font-size="48.00">(a)</text>
<text transform="translate(0.00,697.50)" x="1284.75 1303.40 1324.40" y="-4.8 0 -4.8" text-anchor="middle" font-size="48.00">(b)</text>
<text transform="translate(0.00,1366.50)" x="635.90 659.60 686.50 707.40 730.50 754.10 776.60 799.30 823.00 844.30" y="0 0 -4.8 0 0 0 0 0 0 -4.8" text-anchor="middle" font-size="46.67">2θ(degree)</text>
<text transform="translate(54.70,521.00) rotate(-90) scale(0.880,1)" x="13.27 39.80 66.34 92.87 119.40 145.94 172.47 199.01 225.54 252.07 278.61 305.14 331.68 358.21 384.74 411.28 437.81 464.35" y="0 0 0 0 0 0 0 0 0 0 0 0 0 0 0 0 0 0" text-anchor="middle" font-size="46.67">Relative Intensity</text>
<text transform="translate(52.00,1166.50) rotate(-90) scale(0.880,1)" x="13.27 39.80 66.34 92.87 119.40 145.94 172.47 199.01 225.54 252.07 278.61 305.14 331.68 358.21 384.74 411.28 437.81 464.35" y="0 0 0 0 0 0 0 0 0 0 0 0 0 0 0 0 0 0" text-anchor="middle" font-size="46.67">Relative Intensity</text>
</svg>
</body></html>
